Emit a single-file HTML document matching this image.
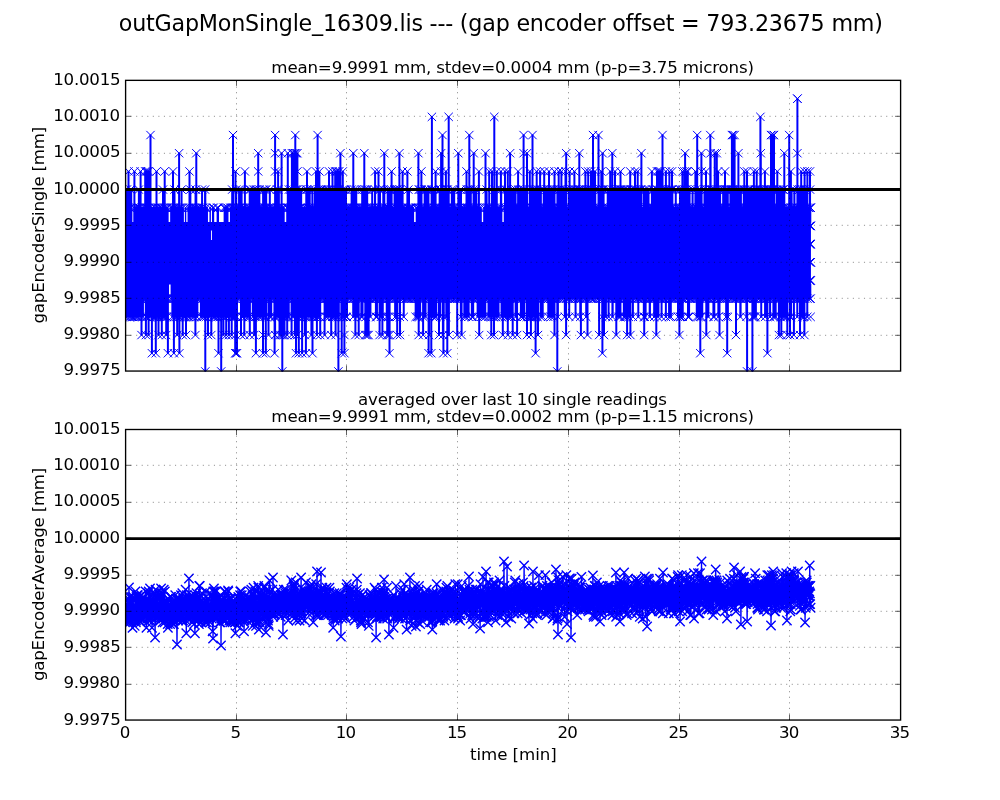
<!DOCTYPE html>
<html lang="en"><head><meta charset="utf-8"><title>outGapMonSingle_16309.lis</title>
<style>html,body{margin:0;padding:0;background:#fff;overflow:hidden}svg{display:block}.mk1{fill:none;stroke:none;marker-start:url(#m1);marker-mid:url(#m1);marker-end:url(#m1)}.mk2{fill:none;stroke:#0000ff;stroke-width:1.39;stroke-linejoin:round;marker-start:url(#m2);marker-mid:url(#m2);marker-end:url(#m2)}text{font-family:"DejaVu Sans","Liberation Sans",sans-serif;fill:#000}</style></head>
<body>
<svg width="1000" height="800" viewBox="0 0 1000 800">
<defs>
<marker id="m1" markerUnits="userSpaceOnUse" markerWidth="12" markerHeight="12" refX="6" refY="6" viewBox="0 0 12 12" overflow="visible"><path d="M1.83 1.83L10.17 10.17M1.83 10.17L10.17 1.83" stroke="#0000ff" stroke-width="1" fill="none"/></marker>
<marker id="m2" markerUnits="userSpaceOnUse" markerWidth="12" markerHeight="12" refX="6" refY="6" viewBox="0 0 12 12" overflow="visible"><path d="M1.83 1.83L10.17 10.17M1.83 10.17L10.17 1.83" stroke="#0000ff" stroke-width="1.39" stroke-linecap="square" fill="none"/></marker>
<clipPath id="c1"><rect x="125" y="80" width="775.5" height="291.4"/></clipPath><clipPath id="c2"><rect x="125" y="429" width="775.5" height="291.4"/></clipPath>
</defs>
<rect width="1000" height="800" fill="#fff"/>
<g clip-path="url(#c1)">
<path fill="#0000ff" d="M125 221.95H810.95V284.5H125ZM125 222.65V207.07H132.39V222.65ZM133.29 222.65V207.07H168.63V222.65ZM170.15 222.65V207.07H183.9V222.65ZM184.88 222.65V207.07H186.29V222.65ZM187.53 222.65V207.07H207.97V222.65ZM209.45 222.65V207.07H210.91V222.65ZM211.99 222.65V207.07H214.2V222.65ZM216.6 222.65V207.07H219V222.65ZM223.61 222.65V207.07H228.49V222.65ZM229.95 222.65V207.07H284.69V222.65ZM286.23 222.65V207.07H414.09V222.65ZM415.69 222.65V207.07H481.83V222.65ZM483.17 222.65V207.07H502.37V222.65ZM503.75 222.65V207.07H811.3V222.65ZM125 283.8H169.04V299.38H125ZM170.6 283.8H811.3V299.38H170.6ZM125 222.65V188.89H132.22V222.65ZM133.4 222.65V188.89H135.4V222.65ZM137.88 222.65V188.89H141.6V222.65ZM144.2 222.65V188.89H151.5V222.65ZM155.5 222.65V188.89H157.5V222.65ZM161.99 222.65V188.89H165.7V222.65ZM172 222.65V188.89H175.5V222.65ZM178.1 222.65V188.89H180.1V222.65ZM180.57 222.65V188.89H182.57V222.65ZM188.5 222.65V188.89H191.38V222.65ZM194.55 222.65V188.89H197.3V222.65ZM201.06 222.65V188.89H203.06V222.65ZM204.04 222.65V188.89H206.32V222.65ZM231.2 222.65V188.89H234V222.65ZM234.5 222.65V188.89H237.23V222.65ZM238.07 222.65V188.89H242.62V222.65ZM243.9 222.65V188.89H245.9V222.65ZM248.71 222.65V188.89H260.36V222.65ZM262.1 222.65V188.89H267.19V222.65ZM268.82 222.65V188.89H270.82V222.65ZM274.1 222.65V188.89H279.89V222.65ZM280.6 222.65V188.89H282.6V222.65ZM286.8 222.65V188.89H302.17V222.65ZM305.27 222.65V188.89H310.7V222.65ZM311.37 222.65V188.89H313.37V222.65ZM313.87 222.65V188.89H347.02V222.65ZM350.61 222.65V188.89H357.23V222.65ZM361.18 222.65V188.89H368.18V222.65ZM371.21 222.65V188.89H373.21V222.65ZM374.01 222.65V188.89H376.1V222.65ZM377.5 222.65V188.89H381V222.65ZM382.3 222.65V188.89H385.3V222.65ZM386.68 222.65V188.89H392.6V222.65ZM393.61 222.65V188.89H403.6V222.65ZM406.4 222.65V188.89H410.01V222.65ZM417.4 222.65V188.89H422.5V222.65ZM423.66 222.65V188.89H429.45V222.65ZM430.63 222.65V188.89H436.6V222.65ZM438.64 222.65V188.89H449.7V222.65ZM450.83 222.65V188.89H455.18V222.65ZM457.3 222.65V188.89H462.03V222.65ZM465.5 222.65V188.89H471.8V222.65ZM472.59 222.65V188.89H477.31V222.65ZM477.9 222.65V188.89H479.9V222.65ZM484.5 222.65V188.89H487.63V222.65ZM488.2 222.65V188.89H490.2V222.65ZM491 222.65V188.89H497.8V222.65ZM499.9 222.65V188.89H502.21V222.65ZM504 222.65V188.89H516.57V222.65ZM517.1 222.65V188.89H528V222.65ZM528.75 222.65V188.89H541.86V222.65ZM542.73 222.65V188.89H555.5V222.65ZM556.41 222.65V188.89H567.2V222.65ZM567.83 222.65V188.89H596.27V222.65ZM597.5 222.65V188.89H604.6V222.65ZM606.72 222.65V188.89H642.4V222.65ZM642.89 222.65V188.89H649.51V222.65ZM650.9 222.65V188.89H673.36V222.65ZM674.77 222.65V188.89H676.77V222.65ZM678.96 222.65V188.89H690.58V222.65ZM691.55 222.65V188.89H693.6V222.65ZM694.4 222.65V188.89H702.6V222.65ZM703.48 222.65V188.89H721.09V222.65ZM722.15 222.65V188.89H728.79V222.65ZM729.39 222.65V188.89H741.91V222.65ZM742.78 222.65V188.89H775V222.65ZM775.53 222.65V188.89H785.3V222.65ZM788.2 222.65V188.89H792.61V222.65ZM793.33 222.65V188.89H795.42V222.65ZM796.4 222.65V188.89H808.4V222.65ZM809 222.65V188.89H811.04V222.65ZM125 283.8H143.94V317.56H125ZM144.82 283.8H168.9V317.56H144.82ZM171.35 283.8H198.35V317.56H171.35ZM199.94 283.8H238V317.56H199.94ZM240 283.8H250.91V317.56H240ZM251.79 283.8H267.04V317.56H251.79ZM267.5 283.8H272.22V317.56H267.5ZM273.43 283.8H289.73V317.56H273.43ZM290.6 283.8H321.2V317.56H290.6ZM323.6 283.8H339.81V317.56H323.6ZM340.37 283.8H347.98V317.56H340.37ZM352.2 283.8H359.7V317.56H352.2ZM360.33 283.8H363.54V317.56H360.33ZM364.3 283.8H371.45V317.56H364.3ZM374.91 283.8H377.96V317.56H374.91ZM378.6 283.8H383.78V317.56H378.6ZM385.74 283.8H390.6V317.56H385.74ZM394.13 283.8H398.2V317.56H394.13ZM398.8 283.8H401V317.56H398.8ZM402.76 283.8H404.76V317.56H402.76ZM414.66 283.8H421.16V317.56H414.66ZM422.1 283.8H426.54V317.56H422.1ZM427.6 283.8H437.29V317.56H427.6ZM438 283.8H441.28V317.56H438ZM441.9 283.8H444.78V317.56H441.9ZM445.29 283.8H449.9V317.56H445.29ZM456.2 283.8H458.2V317.56H456.2ZM459.85 283.8H462.6V317.56H459.85ZM463.31 283.8H469.61V317.56H463.31ZM470.82 283.8H474.17V317.56H470.82ZM476.61 283.8H486.28V317.56H476.61ZM487.5 283.8H499.5V317.56H487.5ZM500.56 283.8H513.7V317.56H500.56ZM514.64 283.8H518.1V317.56H514.64ZM519.88 283.8H525.14V317.56H519.88ZM525.77 283.8H539V317.56H525.77ZM539.61 283.8H543.72V317.56H539.61ZM547.28 283.8H555.5V317.56H547.28ZM556.3 283.8H558.91V317.56H556.3ZM563.82 283.8H567.1V317.56H563.82ZM568.22 283.8H570.22V317.56H568.22ZM574.56 283.8H576.58V317.56H574.56ZM579.24 283.8H581.9V317.56H579.24ZM585.2 283.8H588.5V317.56H585.2ZM598.1 283.8H600.1V317.56H598.1ZM601.23 283.8H606.88V317.56H601.23ZM607.58 283.8H609.58V317.56H607.58ZM611.42 283.8H613.68V317.56H611.42ZM615.3 283.8H621.45V317.56H615.3ZM622.85 283.8H631.4V317.56H622.85ZM631.9 283.8H633.9V317.56H631.9ZM637.3 283.8H639.3V317.56H637.3ZM642.81 283.8H646.62V317.56H642.81ZM648.69 283.8H650.95V317.56H648.69ZM653.16 283.8H659.48V317.56H653.16ZM660.58 283.8H662.58V317.56H660.58ZM664.87 283.8H666.87V317.56H664.87ZM668.07 283.8H671.82V317.56H668.07ZM677 283.8H683.75V317.56H677ZM686.98 283.8H690.1V317.56H686.98ZM695.76 283.8H703.28V317.56H695.76ZM705.3 283.8H709.39V317.56H705.3ZM712.41 283.8H715.32V317.56H712.41ZM717.34 283.8H720.5V317.56H717.34ZM725.18 283.8H728.88V317.56H725.18ZM735 283.8H737V317.56H735ZM739.32 283.8H741.62V317.56H739.32ZM745.39 283.8H748.1V317.56H745.39ZM751.4 283.8H756.89V317.56H751.4ZM760.23 283.8H762.23V317.56H760.23ZM764.08 283.8H768.4V317.56H764.08ZM769.08 283.8H771.08V317.56H769.08ZM772.41 283.8H776.66V317.56H772.41ZM777.9 283.8H788.3V317.56H777.9ZM788.9 283.8H792.07V317.56H788.9ZM792.9 283.8H794.9V317.56H792.9ZM796.3 283.8H798.3V317.56H796.3ZM799 283.8H805.4V317.56H799ZM806.27 283.8H808.27V317.56H806.27Z"/>
<path fill="none" stroke="#0000ff" stroke-width="2.0" d="M797.4 189.59V98.18M431.9 189.59V116.36M448.7 189.59V116.36M494.3 189.59V116.36M760.4 189.59V116.36M150.5 189.59V134.55M233 189.59V134.55M275.1 189.59V134.55M295.3 189.59V134.55M317.6 189.59V134.55M442.5 189.59V134.55M469.3 189.59V134.55M523.6 189.59V134.55M532.5 189.59V134.55M593 189.59V134.55M598.5 189.59V134.55M662.5 189.59V134.55M697.2 189.59V134.55M710.3 189.59V134.55M731.9 189.59V134.55M733.2 189.59V134.55M734.6 189.59V134.55M771 189.59V134.55M772.5 189.59V134.55M774 189.59V134.55M789.2 189.59V134.55M179.1 189.59V152.73M196.3 189.59V152.73M258.2 189.59V152.73M275.1 189.59V152.73M281.6 189.59V152.73M287.8 189.59V152.73M291.9 189.59V152.73M293.3 189.59V152.73M294.7 189.59V152.73M296.1 189.59V152.73M297.4 189.59V152.73M340.4 189.59V152.73M353.3 189.59V152.73M364.3 189.59V152.73M384.3 189.59V152.73M399.4 189.59V152.73M418.4 189.59V152.73M441.1 189.59V152.73M458.3 189.59V152.73M473.7 189.59V152.73M485.5 189.59V152.73M510.1 189.59V152.73M523.6 189.59V152.73M527 189.59V152.73M566.2 189.59V152.73M579.3 189.59V152.73M602.6 189.59V152.73M612.3 189.59V152.73M641.4 189.59V152.73M685.1 189.59V152.73M701.4 189.59V152.73M710.6 189.59V152.73M714.7 189.59V152.73M716.8 189.59V152.73M738.4 189.59V152.73M760.8 189.59V152.73M784.3 189.59V152.73M797.4 189.59V152.73M128.5 189.59V170.91M134.4 189.59V170.91M140.6 189.59V170.91M145.2 189.59V170.91M146.3 189.59V170.91M147.5 189.59V170.91M148.8 189.59V170.91M156.5 189.59V170.91M164.7 189.59V170.91M173 189.59V170.91M189.5 189.59V170.91M235.5 189.59V170.91M244.9 189.59V170.91M258.2 189.59V170.91M275.1 189.59V170.91M278.1 189.59V170.91M297.4 189.59V170.91M307 189.59V170.91M316 189.59V170.91M319.4 189.59V170.91M329 189.59V170.91M332.5 189.59V170.91M335.2 189.59V170.91M336.6 189.59V170.91M338 189.59V170.91M339.2 189.59V170.91M342.8 189.59V170.91M375.1 189.59V170.91M378.5 189.59V170.91M391.6 189.59V170.91M402.6 189.59V170.91M407.4 189.59V170.91M421.4 189.59V170.91M435.6 189.59V170.91M441.1 189.59V170.91M445.9 189.59V170.91M466.5 189.59V170.91M478.9 189.59V170.91M489.2 189.59V170.91M492 189.59V170.91M496.8 189.59V170.91M500.9 189.59V170.91M505 189.59V170.91M507.8 189.59V170.91M518.1 189.59V170.91M529.8 189.59V170.91M536.7 189.59V170.91M540.1 189.59V170.91M544.2 189.59V170.91M549 189.59V170.91M554.5 189.59V170.91M558.7 189.59V170.91M561.4 189.59V170.91M565.5 189.59V170.91M569.6 189.59V170.91M574.4 189.59V170.91M585.4 189.59V170.91M588.2 189.59V170.91M591 189.59V170.91M595 189.59V170.91M601.3 189.59V170.91M610.2 189.59V170.91M615 189.59V170.91M620.5 189.59V170.91M630.2 189.59V170.91M635 189.59V170.91M637.7 189.59V170.91M651.9 189.59V170.91M657 189.59V170.91M658.3 189.59V170.91M659.7 189.59V170.91M660.8 189.59V170.91M665.9 189.59V170.91M669.4 189.59V170.91M672 189.59V170.91M682.4 189.59V170.91M684.5 189.59V170.91M686.5 189.59V170.91M687.8 189.59V170.91M695.4 189.59V170.91M701.6 189.59V170.91M706 189.59V170.91M718.1 189.59V170.91M725 189.59V170.91M744.3 189.59V170.91M747 189.59V170.91M753.9 189.59V170.91M756.7 189.59V170.91M764.9 189.59V170.91M777.3 189.59V170.91M790.9 189.59V170.91M801.2 189.59V170.91M804.6 189.59V170.91M807.4 189.59V170.91M810 189.59V170.91M205.3 316.86V371.91M221.2 316.86V371.91M282.3 316.86V371.91M338.4 316.86V371.91M557.3 316.86V371.91M747.1 316.86V371.91M752.4 316.86V371.91M151.9 316.86V353.73M155.8 316.86V353.73M167.9 316.86V353.73M173.9 316.86V353.73M179.4 316.86V353.73M218.5 316.86V353.73M235.2 316.86V353.73M236.1 316.86V353.73M237 316.86V353.73M255.9 316.86V353.73M263 316.86V353.73M265.8 316.86V353.73M274.6 316.86V353.73M296 316.86V353.73M298.8 316.86V353.73M302.1 316.86V353.73M305.9 316.86V353.73M312.5 316.86V353.73M341.7 316.86V353.73M344.4 316.86V353.73M389.5 316.86V353.73M428.6 316.86V353.73M431.3 316.86V353.73M443.4 316.86V353.73M447.3 316.86V353.73M535.6 316.86V353.73M602.4 316.86V353.73M700.3 316.86V353.73M727.2 316.86V353.73M767.4 316.86V353.73M141.5 316.86V335.55M145.9 316.86V335.55M148.6 316.86V335.55M158.5 316.86V335.55M161.8 316.86V335.55M166.2 316.86V335.55M177.2 316.86V335.55M182.7 316.86V335.55M186 316.86V335.55M195.4 316.86V335.55M208 316.86V335.55M211.3 316.86V335.55M223.4 316.86V335.55M226.2 316.86V335.55M228.9 316.86V335.55M231.7 316.86V335.55M235.5 316.86V335.55M241 316.86V335.55M244.3 316.86V335.55M249.8 316.86V335.55M254.2 316.86V335.55M263 316.86V335.55M268.5 316.86V335.55M275.1 316.86V335.55M279.5 316.86V335.55M280.6 316.86V335.55M282.3 316.86V335.55M283.5 316.86V335.55M284.5 316.86V335.55M287.2 316.86V335.55M291.6 316.86V335.55M294.9 316.86V335.55M297.1 316.86V335.55M304.8 316.86V335.55M311.4 316.86V335.55M316.9 316.86V335.55M320.2 316.86V335.55M324.6 316.86V335.55M331.2 316.86V335.55M335.6 316.86V335.55M344.4 316.86V335.55M355.4 316.86V335.55M358.7 316.86V335.55M365.3 316.86V335.55M366.5 316.86V335.55M367.5 316.86V335.55M368.6 316.86V335.55M379.6 316.86V335.55M382.4 316.86V335.55M387.2 316.86V335.55M388.4 316.86V335.55M389.6 316.86V335.55M397.2 316.86V335.55M400 316.86V335.55M418.7 316.86V335.55M423.1 316.86V335.55M429.1 316.86V335.55M439 316.86V335.55M442.9 316.86V335.55M448.9 316.86V335.55M457.2 316.86V335.55M461.6 316.86V335.55M479.2 316.86V335.55M491.3 316.86V335.55M494 316.86V335.55M502.8 316.86V335.55M507.8 316.86V335.55M512.7 316.86V335.55M517.1 316.86V335.55M527 316.86V335.55M530.9 316.86V335.55M538 316.86V335.55M554.5 316.86V335.55M566.1 316.86V335.55M580.9 316.86V335.55M587.5 316.86V335.55M599.1 316.86V335.55M604 316.86V335.55M616.3 316.86V335.55M627.1 316.86V335.55M630.4 316.86V335.55M644.2 316.86V335.55M656.3 316.86V335.55M679.4 316.86V335.55M706.3 316.86V335.55M719.5 316.86V335.55M736 316.86V335.55M778.9 316.86V335.55M781.3 316.86V335.55M787.3 316.86V335.55M790 316.86V335.55M793.9 316.86V335.55M800 316.86V335.55M804.4 316.86V335.55"/>
<path class="mk1" d="M797.4 98.68h0M431.9 116.86H448.7H494.3H760.4M150.5 135.05H233H275.1H295.3H317.6H442.5H469.3H523.6H532.5H593H598.5H662.5H697.2H710.3H731.9H733.2H734.6H771H772.5H774H789.2M179.1 153.23H196.3H258.2H275.1H281.6H287.8H291.9H293.3H294.7H296.1H297.4H340.4H353.3H364.3H384.3H399.4H418.4H441.1H458.3H473.7H485.5H510.1H523.6H527H566.2H579.3H602.6H612.3H641.4H685.1H701.4H710.6H714.7H716.8H738.4H760.8H784.3H797.4M128.5 171.41H134.4H140.6H145.2H146.3H147.5H148.8H156.5H164.7H173H189.5H235.5H244.9H258.2H275.1H278.1H297.4H307H316H319.4H329H332.5H335.2H336.6H338H339.2H342.8H375.1H378.5H391.6H402.6H407.4H421.4H435.6H441.1H445.9H466.5H478.9H489.2H492H496.8H500.9H505H507.8H518.1H529.8H536.7H540.1H544.2H549H554.5H558.7H561.4H565.5H569.6H574.4H585.4H588.2H591H595H601.3H610.2H615H620.5H630.2H635H637.7H651.9H657H658.3H659.7H660.8H665.9H669.4H672H682.4H684.5H686.5H687.8H695.4H701.6H706H718.1H725H744.3H747H753.9H756.7H764.9H777.3H790.9H801.2H804.6H807.4H810M205.3 371.41H221.2H282.3H338.4H557.3H747.1H752.4M151.9 353.23H155.8H167.9H173.9H179.4H218.5H235.2H236.1H237H255.9H263H265.8H274.6H296H298.8H302.1H305.9H312.5H341.7H344.4H389.5H428.6H431.3H443.4H447.3H535.6H602.4H700.3H727.2H767.4M141.5 335.05H145.9H148.6H158.5H161.8H166.2H177.2H182.7H186H195.4H208H211.3H223.4H226.2H228.9H231.7H235.5H241H244.3H249.8H254.2H263H268.5H275.1H279.5H280.6H282.3H283.5H284.5H287.2H291.6H294.9H297.1H304.8H311.4H316.9H320.2H324.6H331.2H335.6H344.4H355.4H358.7H365.3H366.5H367.5H368.6H379.6H382.4H387.2H388.4H389.6H397.2H400H418.7H423.1H429.1H439H442.9H448.9H457.2H461.6H479.2H491.3H494H502.8H507.8H512.7H517.1H527H530.9H538H554.5H566.1H580.9H587.5H599.1H604H616.3H627.1H630.4H644.2H656.3H679.4H706.3H719.5H736H778.9H781.3H787.3H790H793.9H800H804.4M125.74 189.59H126.92H130.44H138.88H162.99H174.5H181.57H190.38H195.55H202.06H205.04H232.2H236.23H239.07H241H249.71H250.75H253.35H255.07H256.69H259.36H263.1H264.97H266.19H269.82H277H278.24H288.94H290.61H292.48H295.17H296.23H297.63H300.33H306.27H307.17H309.7H312.37H314.87H318.47H320.4H321.41H323.04H324.95H327.16H328.35H331.1H334.23H336.8H337.94H339.26H342.9H344.34H346.02H351.61H354.08H356.23H362.18H364.26H365.81H367.18H372.21H375.01H379.06H380H383.3H387.68H389.43H391.26H394.61H396.32H397.47H399.27H400.22H408.31H418.84H419.94H421.5H424.66H426.59H428.45H431.63H433.12H435.43H439.64H440.55H444.06H446.28H447.63H451.83H453.82H460.43H466.8H468.05H469.66H470.8H473.59H475.75H486.63H496.05H501.21H505.69H507.11H511.7H513.3H515.57H518.34H520.81H522.77H523.85H529.75H531.97H533.25H534.22H535.46H537.81H540.69H543.73H546.56H547.7H549.05H550.17H551.57H553.32H557.41H558.97H560.15H562.02H563.18H565.52H568.83H571.5H572.88H574.29H575.2H576.16H578.45H579.74H580.72H582.54H584.32H586.04H587.13H589.05H590.85H592.36H594.29H595.27H600.66H602.36H603.6H607.72H609.12H612H614.24H615.76H617.81H619.22H620.48H621.66H623.22H624.64H626.24H627.96H630.78H631.78H632.91H634.78H635.97H638.4H640.28H641.25H643.89H645.72H648.2H652.82H653.92H656.71H657.75H660.19H662.44H663.77H665.38H667.12H668.57H670.06H671.27H672.36H675.77H679.96H680.99H682.82H684.56H685.83H686.79H689.58H692.55H695.74H698.52H700.31H704.48H706.36H708.09H711.63H712.89H714.49H716.17H717.7H719.59H723.15H724.14H725.6H726.51H727.43H730.39H731.85H732.77H733.8H736.92H738.62H739.96H740.91H743.78H744.93H746.97H748.42H749.41H751.21H755.3H756.72H757.87H758.86H760.7H762.22H763.36H764.35H766.17H767.42H768.64H769.56H771.31H772.31H773.59H776.53H777.92H778.99H780.4H782.23H783.51H791.61H794.33H797.67H799.44H801.3H803.12H804.68H806.64H810.04M125.67 207.77H126.69H127.79H130.32H133.61H135.32H137.04H138.71H139.75H141.7H144.51H145.54H146.8H148.37H149.82H152.17H154.58H155.9H157.7H159.09H160.68H161.76H163.38H164.63H165.83H167.22H170.41H171.99H173.02H174.31H175.48H176.71H178.52H180.35H181.99H185.56H188.12H189.91H191.46H193.55H194.65H195.76H197.22H198.49H199.62H201.68H202.97H205.68H210.06H212.63H213.67H217.17H218.28H223.91H225H226.28H227.68H230.31H231.44H232.55H233.77H235.03H236.18H237.87H239.28H240.48H242.15H243.65H244.95H247.05H248.6H249.93H251.27H253.11H254.11H255.87H256.92H259.3H260.77H262.67H264.8H266.11H268.44H269.52H270.65H271.88H273.12H274.41H276.59H277.79H279.03H280.54H282.33H283.54H286.76H287.85H288.94H290.52H291.79H293.87H296.06H297.31H300.22H301.71H303.18H305.96H307.85H308.93H311.58H312.78H314.95H317.07H318.88H320.11H321.38H322.58H324.9H326.35H327.92H329.27H330.61H332.12H333.68H335.52H337.78H339.84H341.51H342.82H344.44H345.98H347.15H348.36H349.84H351.65H353.1H354.28H355.49H356.49H357.58H358.73H360.5H361.54H363.26H364.33H366.1H367.62H368.81H370.44H371.98H373.31H374.97H376.36H377.42H379.65H381.17H382.42H384.35H385.52H387.77H388.83H391.27H392.78H393.82H396.19H397.37H399.83H402.18H403.87H405.6H407.78H409.08H410.21H411.24H412.99H415.97H416.99H418.76H420.64H421.69H422.83H424.4H426.43H427.67H429.08H430.19H431.3H433.77H435.16H436.42H438.22H439.66H441.15H442.99H444.8H445.94H447.21H448.62H450.01H451.39H452.71H453.83H454.89H457.07H459.44H461.05H462.42H463.58H465.71H466.96H468.09H469.88H471.07H472.08H473.14H474.38H476.27H477.5H479.54H483.85H486.03H487.48H488.5H489.86H491.04H492.52H494.49H496.83H498.01H499.14H501.32H504.12H505.37H507.68H508.95H511.25H512.77H513.78H515.26H516.28H517.61H518.77H520.19H521.34H522.51H524.06H525.31H527.53H528.75H531.28H532.31H533.78H535.92H538.25H540.44H541.65H543.22H544.49H545.89H547.6H549.41H550.43H551.79H552.8H553.97H556.03H557.26H558.58H559.71H561.25H562.51H563.64H565.12H566.58H567.67H570.08H572.24H574.53H575.89H578.37H579.72H581.2H582.24H583.92H584.98H587.09H589.59H590.69H591.81H593.77H595.51H596.56H597.84H599.56H602.25H603.96H606.26H607.53H609.08H611.2H612.27H613.62H615.05H617.25H618.59H620.26H622.69H625.3H627.05H628.84H630.06H631.26H632.35H633.78H635.61H637.02H638.13H640.06H642.18H644.58H646.72H648H649.05H650.19H651.61H652.7H653.94H655.85H657.33H658.93H660.16H661.43H662.81H664.09H665.41H667.51H668.53H670.96H672.45H674.66H676.42H678.5H679.5H680.54H682.06H683.15H684.48H685.96H687.28H689.29H690.63H693.06H694.07H695.48H696.78H698.76H699.83H701.18H703.12H704.15H705.49H706.93H709.18H710.85H712.16H713.63H714.69H716.5H717.96H719.6H721.09H722.83H724.04H725.06H726.3H728.8H730.13H731.89H733.1H734.24H735.6H737.62H738.8H740.05H741.67H743.6H745.47H746.93H748.33H749.51H750.99H752.36H753.54H755.26H757.48H759.66H761.13H762.35H763.37H765.16H767.47H769.69H771.5H773.18H774.59H776.67H778.68H780.31H782.54H783.6H784.79H787.35H788.61H790.87H792.29H793.64H795.24H796.66H799H800.46H802.4H804.07H805.51H806.89H808.84M125.28 298.68H126.6H128.09H129.74H130.82H132.36H133.38H134.72H136.21H138.69H140.05H141.27H143.1H144.29H145.49H146.51H148.34H149.4H151.16H153.45H155.36H156.78H158.54H159.64H161.22H162.61H163.88H164.94H165.99H167.2H168.3H171.01H172.6H173.79H174.81H176.31H177.55H178.84H181.04H182.59H183.73H185.72H187.32H188.44H190.28H191.65H193.48H194.56H196.73H197.93H199.43H200.61H202.85H204.16H205.2H207.07H208.15H209.42H211.34H212.58H213.84H214.9H216.52H217.73H219H220.49H222.14H223.74H224.8H226.54H227.96H230.2H231.24H232.61H233.62H234.97H237.21H239.24H240.86H243.35H244.49H246.18H247.22H248.61H250.36H253.15H254.61H255.72H257.79H259.61H261.17H262.23H263.37H265.01H267.02H269.38H271.21H272.36H273.77H275.49H276.6H277.68H279.03H281.51H283.68H285.1H286.34H288.34H289.73H291.18H293.23H294.62H296.31H298.59H300.99H302.04H303.12H304.75H306.48H307.69H308.77H310.27H312.1H314.5H315.85H317.72H319.46H321.15H322.55H323.94H325.07H326.32H327.61H328.88H330.14H331.68H333.09H334.37H335.65H337.1H338.35H339.45H341.1H342.31H344.37H345.4H346.85H348.45H349.53H352.09H353.23H355.41H357.92H358.92H360.22H361.6H362.61H365.22H366.38H368.5H369.8H370.97H372.43H374.16H375.22H376.5H378.49H379.61H381.04H382.3H384.6H385.73H387.08H388.28H389.29H391.03H392.39H394.68H395.68H396.97H399.75H402.03H403.32H405.19H406.27H407.5H408.63H409.89H411.23H412.68H414.17H415.69H417.06H418.39H419.92H421.34H422.54H423.8H426H427.42H429.09H430.86H432.9H433.9H435.34H437.3H438.94H440.98H442.09H443.46H444.63H446.53H447.99H449.42H450.51H452.84H454.07H455.34H457.44H459.29H460.31H461.34H462.86H464.84H466.53H468.84H469.96H471.06H472.75H473.87H475.13H477.49H480.13H481.89H483.02H484.62H486.19H487.51H488.52H490.96H491.97H493.45H494.55H496.1H497.16H498.64H501.11H502.96H504.17H505.54H508.04H509.62H511.8H513.79H515.17H516.3H517.7H518.79H520.47H522.26H524.71H527.06H529.2H531.18H532.42H534.13H535.32H536.49H538H539.14H540.55H542.5H544.18H545.38H546.87H548.28H550.28H551.44H552.75H553.84H555.28H556.47H558.21H559.96H561.56H563.38H566.19H568.42H569.6H571.95H573.72H575.31H577.05H578.46H580H581.17H583.68H585.06H586.07H587.93H590.42H591.65H593.04H594.18H596.57H598.62H600.3H602.01H604.56H607.16H609.62H610.67H611.95H613.65H614.66H616.15H617.47H618.7H619.85H622.32H623.69H625.03H627.28H628.49H630.14H631.92H634.15H635.61H637.45H638.7H640.17H641.6H643.15H644.69H646.05H647.53H649.1H650.36H651.57H653.34H654.4H655.99H658.28H659.62H660.62H661.87H663.65H664.74H666.15H668.41H670.21H671.24H672.77H674.03H675.22H677.61H679.19H681.51H682.54H683.82H685.75H687.42H689.61H690.8H692.05H694.1H695.72H696.87H698.02H699.9H702.46H703.75H705.26H706.6H708.75H709.86H711.61H713.29H715.38H716.53H717.58H719.24H720.33H721.93H723.38H725.5H727.08H729.29H731.33H732.66H734H735.15H736.21H738.12H739.49H740.55H742.04H743.78H745.55H746.69H748.46H749.98H751.11H753.29H754.39H755.43H758.07H759.31H761.15H762.51H763.88H764.89H766.31H767.66H769.26H770.57H772.68H774.57H776.12H778.24H779.3H781.68H782.82H784.18H785.27H787.02H788.62H789.97H791.49H793.75H795.57H796.87H797.92H798.92H800.12H801.33H802.52H803.83H805.07H807.48H809.92M125.32 316.86H127.18H129.49H130.49H131.83H132.95H134.27H135.53H136.67H137.73H140.53H142.47H145.82H146.8H150.19H152.71H154.19H155.17H156.45H157.55H158.85H161.28H163.01H164.01H165.43H166.96H172.35H174.4H175.89H177.02H178.79H180.17H183.74H184.66H185.63H187.55H188.95H191.41H193.52H194.43H196.9H200.94H202.64H203.89H205.95H208.6H212.64H214.05H214.96H216.79H217.97H219.79H222.99H224.82H226.96H230.65H231.83H233H234.11H235.17H236.64H242H243.12H245.55H248.22H249.91H252.79H255.11H256.33H258.66H260.1H261.62H264.72H266.04H269.61H271.22H274.43H275.45H277.62H278.67H282.67H284.25H285.24H286.48H287.72H288.73H292.69H297.39H299.84H301.51H303.07H304.58H305.64H307.44H309.77H311.95H313.7H314.86H316.73H318.08H319.67H325.71H327.24H329.37H332.14H333.08H334.16H336.02H338.25H341.37H342.68H343.87H345.96H346.98H353.2H357.5H361.33H362.27H365.94H370.45H375.91H376.96H380.89H382.78H386.74H388.74H395.13H397.15H399.8H403.76H415.66H417.26H418.44H419.51H423.26H425.54H433.15H435.14H436.29H440.28H443.63H446.29H460.85H464.31H465.87H468.61H471.82H473.17H477.61H481.36H483.3H485.28H488.5H490.69H492.47H494.02H495.8H498.5H501.56H504.84H507H508.92H510.76H511.77H515.64H520.88H521.85H524.14H526.77H528.84H530.1H531.04H532.06H533.34H535.33H536.36H537.54H540.61H542.67H548.28H551.02H553.5H557.91H564.82H569.22H575.56H580.24H586.2H602.23H605.88H608.58H612.42H618.47H619.53H620.45H623.85H625.32H626.75H628.79H632.9H638.3H643.81H644.8H649.69H654.16H657.63H661.58H665.87H669.07H670.82H678H679.89H680.82H682.75H687.98H689.1H696.76H698.46H700.26H701.41H708.39H713.41H714.32H718.34H726.18H727.88H740.32H746.39H752.44H753.37H754.4H755.42H761.23H765.08H770.08H773.41H774.39H775.66H780.7H783.25H784.52H785.63H786.97H789.9H791.07H797.3H801.93H803.41H804.36H807.27M810.6 207.77V225.95V244.14V262.32V280.5V298.68V316.86M810.2 225.95V244.14V262.32V280.5V207.77M809.8 244.14V225.95V262.32V280.5M810.75 225.95V244.14V262.32V207.77V280.5"/>
<path d="M211.5 230.5V240" stroke="#fff" stroke-width="0.9"/>
</g>
<g clip-path="url(#c2)"><path class="mk2" d="M125 622.32 125.22 602.32 125.44 609.59 125.66 611.41 125.88 605.95 126.11 618.68 126.33 609.59 126.55 618.68 126.77 604.14 126.99 611.41 127.21 618.68 127.43 600.5 127.65 622.32 127.88 605.95 128.1 611.41 128.32 613.23 128.54 605.95 128.76 620.5 128.98 587.5 129.2 620.5 129.42 596.86 129.65 622.32 129.87 602.32 130.09 600.5 130.31 609.59 130.53 609.59 130.75 611.41 130.97 611.41 131.19 596.86 131.42 609.59 131.64 613.23 131.86 618.68 132.08 611.41 132.3 609.59 132.52 627.77 132.74 618.68 132.96 613.23 133.19 596.86 133.41 613.23 133.63 613.23 133.85 620.5 134.07 609.59 134.29 618.68 134.51 611.41 134.73 625.95 134.96 607.77 135.18 609.59 135.4 591.41 135.62 611.41 135.84 622.32 136.06 620.5 136.28 602.32 136.5 596.86 136.73 609.59 136.95 607.77 137.17 595.05 137.39 618.68 137.61 604.14 137.83 595.05 138.05 602.32 138.27 604.14 138.5 611.41 138.72 605.95 138.94 620.5 139.16 596.86 139.38 596.86 139.6 611.41 139.82 609.59 140.04 607.77 140.27 618.68 140.49 622.32 140.71 607.77 140.93 618.68 141.15 611.41 141.37 595.05 141.59 618.68 141.81 613.23 142.03 611.41 142.26 618.68 142.48 602.32 142.7 615.05 142.92 611.41 143.14 598.68 143.36 605.95 143.58 604.14 143.8 605.95 144.03 618.68 144.25 602.32 144.47 604.14 144.69 611.41 144.91 600.5 145.13 609.59 145.35 616.86 145.57 591.41 145.8 611.41 146.02 609.59 146.24 602.32 146.46 627.77 146.68 605.95 146.9 602.32 147.12 600.5 147.34 618.68 147.57 600.5 147.79 607.77 148.01 607.77 148.23 593.23 148.45 607.77 148.67 591.41 148.89 620.5 149.11 602.32 149.34 616.86 149.56 613.23 149.78 600.5 150 588.5 150.22 613.23 150.44 620.5 150.66 613.23 150.88 611.41 151.11 602.32 151.33 602.32 151.55 616.86 151.77 615.05 151.99 627.77 152.21 611.41 152.43 611.41 152.65 605.95 152.88 605.95 153.1 615.05 153.32 602.32 153.54 600.5 153.76 593.23 153.98 602.32 154.2 598.68 154.42 604.14 154.65 607.77 154.87 602.32 155.09 637.5 155.31 607.77 155.53 589.59 155.75 595.05 155.97 596.86 156.19 605.95 156.42 616.86 156.64 605.95 156.86 607.77 157.08 605.95 157.3 609.59 157.52 591.41 157.74 596.86 157.96 616.86 158.18 609.59 158.41 616.86 158.63 609.59 158.85 609.59 159.07 609.59 159.29 616.86 159.51 618.68 159.73 595.05 159.95 611.41 160.18 600.5 160.4 620.5 160.62 600.5 160.84 596.86 161.06 588.5 161.28 605.95 161.5 618.68 161.72 616.86 161.95 613.23 162.17 593.23 162.39 609.59 162.61 622.32 162.83 602.32 163.05 607.77 163.27 618.68 163.49 609.59 163.72 589.59 163.94 616.86 164.16 605.95 164.38 602.32 164.6 622.32 164.82 591.41 165.04 609.59 165.26 604.14 165.49 611.41 165.71 600.5 165.93 616.86 166.15 607.77 166.37 600.5 166.59 615.05 166.81 607.77 167.03 604.14 167.26 613.23 167.48 618.68 167.7 624.14 167.92 627.77 168.14 598.68 168.36 607.77 168.58 607.77 168.8 616.86 169.03 611.41 169.25 616.86 169.47 607.77 169.69 618.68 169.91 605.95 170.13 624.14 170.35 613.23 170.57 607.77 170.8 596.86 171.02 596.86 171.24 605.95 171.46 613.23 171.68 616.86 171.9 605.95 172.12 613.23 172.34 602.32 172.57 602.32 172.79 620.5 173.01 624.14 173.23 616.86 173.45 613.23 173.67 615.05 173.89 624.14 174.11 611.41 174.33 613.23 174.56 613.23 174.78 602.32 175 609.59 175.22 595.05 175.44 615.05 175.66 604.14 175.88 613.23 176.1 598.68 176.33 613.23 176.55 602.32 176.77 618.68 176.99 644.5 177.21 616.86 177.43 616.86 177.65 605.95 177.87 598.68 178.1 605.95 178.32 620.5 178.54 615.05 178.76 611.41 178.98 602.32 179.2 616.86 179.42 609.59 179.64 598.68 179.87 615.05 180.09 611.41 180.31 611.41 180.53 618.68 180.75 602.32 180.97 595.05 181.19 616.86 181.41 620.5 181.64 616.86 181.86 615.05 182.08 602.32 182.3 593.23 182.52 620.5 182.74 616.86 182.96 620.5 183.18 598.68 183.41 609.59 183.63 602.32 183.85 600.5 184.07 605.95 184.29 604.14 184.51 609.59 184.73 600.5 184.95 609.59 185.18 615.05 185.4 609.59 185.62 589.59 185.84 620.5 186.06 598.68 186.28 633.23 186.5 604.14 186.72 595.05 186.95 605.95 187.17 611.41 187.39 611.41 187.61 618.68 187.83 616.86 188.05 618.68 188.27 605.95 188.49 615.05 188.72 605.95 188.94 578.5 189.16 605.95 189.38 596.86 189.6 615.05 189.82 615.05 190.04 607.77 190.26 598.68 190.48 605.95 190.71 598.68 190.93 615.05 191.15 598.68 191.37 595.05 191.59 602.32 191.81 616.86 192.03 598.68 192.25 622.32 192.48 609.59 192.7 616.86 192.92 602.32 193.14 613.23 193.36 602.32 193.58 596.86 193.8 615.05 194.02 624.14 194.25 600.5 194.47 618.68 194.69 600.5 194.91 633.23 195.13 595.05 195.35 613.23 195.57 615.05 195.79 604.14 196.02 618.68 196.24 618.68 196.46 593.23 196.68 607.77 196.9 607.77 197.12 598.68 197.34 618.68 197.56 613.23 197.79 605.95 198.01 620.5 198.23 596.86 198.45 613.23 198.67 596.86 198.89 624.14 199.11 609.59 199.33 585.95 199.56 618.68 199.78 585.95 200 605.95 200.22 595.05 200.44 602.32 200.66 609.59 200.88 607.77 201.1 622.32 201.33 622.32 201.55 618.68 201.77 613.23 201.99 593.23 202.21 604.14 202.43 611.41 202.65 616.86 202.87 615.05 203.1 602.32 203.32 609.59 203.54 604.14 203.76 607.77 203.98 598.68 204.2 618.68 204.42 607.77 204.64 604.14 204.86 615.05 205.09 613.23 205.31 622.32 205.53 613.23 205.75 616.86 205.97 591.41 206.19 609.59 206.41 611.41 206.63 615.05 206.86 622.32 207.08 602.32 207.3 605.95 207.52 611.41 207.74 607.77 207.96 615.05 208.18 616.86 208.4 613.23 208.63 598.68 208.85 618.68 209.07 616.86 209.29 607.77 209.51 609.59 209.73 615.05 209.95 615.05 210.17 622.32 210.4 604.14 210.62 607.77 210.84 602.32 211.06 613.23 211.28 595.05 211.5 611.41 211.72 618.68 211.94 595.05 212.17 595.05 212.39 609.59 212.61 631.41 212.83 607.77 213.05 638.5 213.27 591.41 213.49 607.77 213.71 615.05 213.94 588.5 214.16 618.68 214.38 600.5 214.6 611.41 214.82 591.41 215.04 600.5 215.26 604.14 215.48 616.86 215.71 615.05 215.93 600.5 216.15 591.41 216.37 604.14 216.59 618.68 216.81 609.59 217.03 613.23 217.25 598.68 217.48 607.77 217.7 613.23 217.92 604.14 218.14 598.68 218.36 609.59 218.58 609.59 218.8 598.68 219.02 607.77 219.25 611.41 219.47 596.86 219.69 622.32 219.91 613.23 220.13 602.32 220.35 622.32 220.57 600.5 220.79 595.05 221.01 645.5 221.24 607.77 221.46 618.68 221.68 600.5 221.9 615.05 222.12 607.77 222.34 611.41 222.56 611.41 222.78 618.68 223.01 611.41 223.23 620.5 223.45 602.32 223.67 620.5 223.89 613.23 224.11 620.5 224.33 591.41 224.55 598.68 224.78 609.59 225 591.41 225.22 598.68 225.44 607.77 225.66 620.5 225.88 611.41 226.1 605.95 226.32 611.41 226.55 600.5 226.77 615.05 226.99 615.05 227.21 618.68 227.43 615.05 227.65 605.95 227.87 616.86 228.09 590.5 228.32 591.41 228.54 616.86 228.76 613.23 228.98 605.95 229.2 605.95 229.42 620.5 229.64 605.95 229.86 598.68 230.09 607.77 230.31 622.32 230.53 598.68 230.75 611.41 230.97 615.05 231.19 605.95 231.41 618.68 231.63 598.68 231.86 605.95 232.08 602.32 232.3 604.14 232.52 622.32 232.74 605.95 232.96 607.77 233.18 618.68 233.4 620.5 233.63 620.5 233.85 611.41 234.07 620.5 234.29 618.68 234.51 605.95 234.73 622.32 234.95 598.68 235.17 622.32 235.4 633.23 235.62 615.05 235.84 609.59 236.06 607.77 236.28 618.68 236.5 615.05 236.72 616.86 236.94 604.14 237.16 625.95 237.39 609.59 237.61 613.23 237.83 615.05 238.05 611.41 238.27 596.86 238.49 622.32 238.71 598.68 238.93 622.32 239.16 611.41 239.38 611.41 239.6 598.68 239.82 611.41 240.04 595.05 240.26 591.41 240.48 605.95 240.7 605.95 240.93 602.32 241.15 591.41 241.37 600.5 241.59 598.68 241.81 595.05 242.03 615.05 242.25 613.23 242.47 602.32 242.7 618.68 242.92 609.59 243.14 613.23 243.36 607.77 243.58 598.68 243.8 618.68 244.02 631.41 244.24 622.32 244.47 611.41 244.69 620.5 244.91 600.5 245.13 602.32 245.35 609.59 245.57 605.95 245.79 604.14 246.01 618.68 246.24 605.95 246.46 600.5 246.68 615.05 246.9 613.23 247.12 607.77 247.34 607.77 247.56 604.14 247.78 607.77 248.01 615.05 248.23 602.32 248.45 596.86 248.67 605.95 248.89 618.68 249.11 609.59 249.33 605.95 249.55 600.5 249.78 611.41 250 609.59 250.22 591.41 250.44 611.41 250.66 600.5 250.88 620.5 251.1 598.68 251.32 589.59 251.55 604.14 251.77 615.05 251.99 611.41 252.21 607.77 252.43 595.05 252.65 625.95 252.87 602.32 253.09 602.32 253.31 600.5 253.54 587.77 253.76 618.68 253.98 607.77 254.2 615.05 254.42 611.41 254.64 607.77 254.86 611.41 255.08 600.5 255.31 591.41 255.53 622.32 255.75 607.77 255.97 625.95 256.19 596.86 256.41 622.32 256.63 618.68 256.85 604.14 257.08 613.23 257.3 602.32 257.52 605.95 257.74 622.32 257.96 605.95 258.18 585.95 258.4 587.77 258.62 611.41 258.85 629.59 259.07 613.23 259.29 609.59 259.51 620.5 259.73 622.32 259.95 598.68 260.17 593.23 260.39 600.5 260.62 595.05 260.84 613.23 261.06 609.59 261.28 611.41 261.5 609.59 261.72 595.05 261.94 607.77 262.16 604.14 262.39 613.23 262.61 618.68 262.83 602.32 263.05 605.95 263.27 602.32 263.49 595.05 263.71 605.95 263.93 613.23 264.16 587.77 264.38 585.95 264.6 602.32 264.82 611.41 265.04 598.68 265.26 595.05 265.48 602.32 265.7 598.68 265.93 632.5 266.15 609.59 266.37 598.68 266.59 616.86 266.81 589.59 267.03 616.86 267.25 604.14 267.47 607.77 267.7 618.68 267.92 620.5 268.14 609.59 268.36 600.5 268.58 624.14 268.8 625.95 269.02 611.41 269.24 598.68 269.46 609.59 269.69 580.5 269.91 591.41 270.13 611.41 270.35 598.68 270.57 600.5 270.79 605.95 271.01 600.5 271.23 602.32 271.46 613.23 271.68 609.59 271.9 613.23 272.12 607.77 272.34 589.59 272.56 600.5 272.78 600.5 273 577.5 273.23 616.86 273.45 602.32 273.67 613.23 273.89 600.5 274.11 613.23 274.33 615.05 274.55 609.59 274.77 611.41 275 598.68 275.22 595.05 275.44 596.86 275.66 602.32 275.88 604.14 276.1 611.41 276.32 605.95 276.54 605.95 276.77 602.32 276.99 600.5 277.21 602.32 277.43 609.59 277.65 604.14 277.87 604.14 278.09 602.32 278.31 589.59 278.54 607.77 278.76 598.68 278.98 596.86 279.2 613.23 279.42 596.86 279.64 605.95 279.86 609.59 280.08 607.77 280.31 598.68 280.53 595.05 280.75 616.86 280.97 595.05 281.19 600.5 281.41 604.14 281.63 605.95 281.85 593.23 282.08 609.59 282.3 604.14 282.52 600.5 282.74 600.5 282.96 634.5 283.18 607.77 283.4 609.59 283.62 596.86 283.85 589.59 284.07 602.32 284.29 602.32 284.51 602.32 284.73 604.14 284.95 600.5 285.17 593.23 285.39 598.68 285.61 615.05 285.84 589.59 286.06 598.68 286.28 595.05 286.5 609.59 286.72 607.77 286.94 607.77 287.16 596.86 287.38 605.95 287.61 595.05 287.83 605.95 288.05 613.23 288.27 620.5 288.49 593.23 288.71 598.68 288.93 600.5 289.15 611.41 289.38 602.32 289.6 598.68 289.82 609.59 290.04 604.14 290.26 605.95 290.48 596.86 290.7 609.59 290.92 613.23 291.15 593.23 291.37 580.5 291.59 596.86 291.81 605.95 292.03 613.23 292.25 604.14 292.47 602.32 292.69 605.95 292.92 607.77 293.14 607.77 293.36 611.41 293.58 584.14 293.8 585.95 294.02 587.77 294.24 618.68 294.46 604.14 294.69 605.95 294.91 593.23 295.13 589.59 295.35 596.86 295.57 596.86 295.79 582.32 296.01 600.5 296.23 595.05 296.46 620.5 296.68 598.68 296.9 598.68 297.12 607.77 297.34 613.23 297.56 595.05 297.78 593.23 298 602.32 298.23 611.41 298.45 598.68 298.67 593.23 298.89 615.05 299.11 607.77 299.33 609.59 299.55 620.5 299.77 595.05 300 611.41 300.22 602.32 300.44 591.41 300.66 609.59 300.88 611.41 301.1 577.5 301.32 613.23 301.54 600.5 301.76 618.68 301.99 611.41 302.21 596.86 302.43 596.86 302.65 607.77 302.87 600.5 303.09 600.5 303.31 595.05 303.53 604.14 303.76 607.77 303.98 589.59 304.2 595.05 304.42 591.41 304.64 620.5 304.86 593.23 305.08 598.68 305.3 593.23 305.53 595.05 305.75 602.32 305.97 582.32 306.19 604.14 306.41 600.5 306.63 604.14 306.85 596.86 307.07 602.32 307.3 598.68 307.52 605.95 307.74 609.59 307.96 605.95 308.18 613.23 308.4 591.41 308.62 595.05 308.84 604.14 309.07 600.5 309.29 596.86 309.51 600.5 309.73 598.68 309.95 611.41 310.17 602.32 310.39 587.77 310.61 585.95 310.84 598.68 311.06 595.05 311.28 605.95 311.5 584.14 311.72 607.77 311.94 602.32 312.16 591.41 312.38 595.05 312.61 607.77 312.83 598.68 313.05 611.41 313.27 622.32 313.49 602.32 313.71 602.32 313.93 607.77 314.15 604.14 314.38 598.68 314.6 595.05 314.82 602.32 315.04 604.14 315.26 605.95 315.48 604.14 315.7 609.59 315.92 615.05 316.15 584.14 316.37 596.86 316.59 595.05 316.81 596.86 317.03 571.5 317.25 607.77 317.47 591.41 317.69 615.05 317.91 593.23 318.14 615.05 318.36 600.5 318.58 600.5 318.8 593.23 319.02 605.95 319.24 598.68 319.46 595.05 319.68 598.68 319.91 607.77 320.13 602.32 320.35 598.68 320.57 605.95 320.79 591.41 321.01 572.5 321.23 596.86 321.45 593.23 321.68 598.68 321.9 589.59 322.12 595.05 322.34 587.77 322.56 613.23 322.78 600.5 323 609.59 323.22 602.32 323.45 607.77 323.67 611.41 323.89 607.77 324.11 615.05 324.33 605.95 324.55 589.59 324.77 604.14 324.99 613.23 325.22 615.05 325.44 598.68 325.66 602.32 325.88 604.14 326.1 609.59 326.32 591.41 326.54 587.77 326.76 605.95 326.99 609.59 327.21 602.32 327.43 593.23 327.65 609.59 327.87 615.05 328.09 605.95 328.31 607.77 328.53 598.68 328.76 593.23 328.98 596.86 329.2 609.59 329.42 587.77 329.64 596.86 329.86 591.41 330.08 609.59 330.3 607.77 330.53 613.23 330.75 596.86 330.97 604.14 331.19 613.23 331.41 596.86 331.63 607.77 331.85 615.05 332.07 609.59 332.29 602.32 332.52 607.77 332.74 607.77 332.96 600.5 333.18 627.77 333.4 616.86 333.62 607.77 333.84 598.68 334.06 618.68 334.29 593.23 334.51 609.59 334.73 620.5 334.95 618.68 335.17 615.05 335.39 600.5 335.61 609.59 335.83 613.23 336.06 602.32 336.28 598.68 336.5 598.68 336.72 616.86 336.94 593.23 337.16 615.05 337.38 598.68 337.6 611.41 337.83 596.86 338.05 618.68 338.27 605.95 338.49 613.23 338.71 615.05 338.93 604.14 339.15 598.68 339.37 607.77 339.6 593.23 339.82 605.95 340.04 595.05 340.26 595.05 340.48 607.77 340.7 595.05 340.92 636.5 341.14 609.59 341.37 600.5 341.59 607.77 341.81 600.5 342.03 615.05 342.25 609.59 342.47 618.68 342.69 613.23 342.91 607.77 343.14 605.95 343.36 609.59 343.58 616.86 343.8 607.77 344.02 596.86 344.24 598.68 344.46 615.05 344.68 602.32 344.91 602.32 345.13 604.14 345.35 605.95 345.57 609.59 345.79 618.68 346.01 596.86 346.23 602.32 346.45 587.77 346.68 605.95 346.9 584.14 347.12 607.77 347.34 602.32 347.56 600.5 347.78 613.23 348 591.41 348.22 602.32 348.44 602.32 348.67 598.68 348.89 598.68 349.11 587.77 349.33 611.41 349.55 609.59 349.77 604.14 349.99 611.41 350.21 613.23 350.44 591.41 350.66 607.77 350.88 609.59 351.1 602.32 351.32 609.59 351.54 589.59 351.76 593.23 351.98 595.05 352.21 609.59 352.43 604.14 352.65 604.14 352.87 611.41 353.09 605.95 353.31 600.5 353.53 616.86 353.75 605.95 353.98 605.95 354.2 602.32 354.42 620.5 354.64 605.95 354.86 609.59 355.08 605.95 355.3 602.32 355.52 607.77 355.75 611.41 355.97 618.68 356.19 605.95 356.41 593.23 356.63 609.59 356.85 589.59 357.07 578.5 357.29 595.05 357.52 607.77 357.74 613.23 357.96 600.5 358.18 605.95 358.4 602.32 358.62 598.68 358.84 616.86 359.06 609.59 359.29 616.86 359.51 616.86 359.73 604.14 359.95 593.23 360.17 609.59 360.39 616.86 360.61 613.23 360.83 620.5 361.06 622.32 361.28 605.95 361.5 624.14 361.72 604.14 361.94 602.32 362.16 595.05 362.38 595.05 362.6 609.59 362.83 598.68 363.05 605.95 363.27 602.32 363.49 605.95 363.71 613.23 363.93 609.59 364.15 618.68 364.37 604.14 364.59 618.68 364.82 600.5 365.04 607.77 365.26 596.86 365.48 604.14 365.7 605.95 365.92 607.77 366.14 607.77 366.36 604.14 366.59 607.77 366.81 609.59 367.03 609.59 367.25 613.23 367.47 604.14 367.69 609.59 367.91 622.32 368.13 600.5 368.36 602.32 368.58 605.95 368.8 625.95 369.02 607.77 369.24 609.59 369.46 595.05 369.68 613.23 369.9 605.95 370.13 602.32 370.35 596.86 370.57 611.41 370.79 604.14 371.01 593.23 371.23 593.23 371.45 611.41 371.67 602.32 371.9 605.95 372.12 609.59 372.34 609.59 372.56 605.95 372.78 605.95 373 611.41 373.22 613.23 373.44 598.68 373.67 613.23 373.89 611.41 374.11 607.77 374.33 613.23 374.55 587.77 374.77 605.95 374.99 615.05 375.21 615.05 375.44 609.59 375.66 609.59 375.88 589.59 376.1 637.5 376.32 604.14 376.54 604.14 376.76 618.68 376.98 616.86 377.21 600.5 377.43 600.5 377.65 611.41 377.87 605.95 378.09 593.23 378.31 598.68 378.53 595.05 378.75 598.68 378.98 598.68 379.2 611.41 379.42 605.95 379.64 616.86 379.86 609.59 380.08 615.05 380.3 602.32 380.52 615.05 380.74 600.5 380.97 591.41 381.19 604.14 381.41 616.86 381.63 602.32 381.85 587.77 382.07 616.86 382.29 596.86 382.51 613.23 382.74 595.05 382.96 602.32 383.18 618.68 383.4 611.41 383.62 593.23 383.84 593.23 384.06 579.5 384.28 615.05 384.51 596.86 384.73 593.23 384.95 600.5 385.17 605.95 385.39 607.77 385.61 602.32 385.83 598.68 386.05 602.32 386.28 609.59 386.5 609.59 386.72 616.86 386.94 587.77 387.16 618.68 387.38 598.68 387.6 604.14 387.82 605.95 388.05 607.77 388.27 605.95 388.49 605.95 388.71 605.95 388.93 634.5 389.15 602.32 389.37 611.41 389.59 611.41 389.82 605.95 390.04 611.41 390.26 604.14 390.48 607.77 390.7 609.59 390.92 607.77 391.14 605.95 391.36 609.59 391.59 598.68 391.81 596.86 392.03 607.77 392.25 604.14 392.47 602.32 392.69 602.32 392.91 611.41 393.13 605.95 393.36 607.77 393.58 627.77 393.8 618.68 394.02 595.05 394.24 607.77 394.46 605.95 394.68 616.86 394.9 607.77 395.13 611.41 395.35 604.14 395.57 602.32 395.79 615.05 396.01 585.95 396.23 598.68 396.45 604.14 396.67 613.23 396.89 602.32 397.12 598.68 397.34 600.5 397.56 616.86 397.78 607.77 398 613.23 398.22 609.59 398.44 605.95 398.66 609.59 398.89 618.68 399.11 604.14 399.33 616.86 399.55 604.14 399.77 600.5 399.99 609.59 400.21 611.41 400.43 604.14 400.66 593.23 400.88 613.23 401.1 605.95 401.32 600.5 401.54 605.95 401.76 618.68 401.98 602.32 402.2 602.32 402.43 600.5 402.65 611.41 402.87 589.59 403.09 609.59 403.31 609.59 403.53 613.23 403.75 596.86 403.97 605.95 404.2 584.14 404.42 605.95 404.64 600.5 404.86 611.41 405.08 618.68 405.3 593.23 405.52 593.23 405.74 604.14 405.97 598.68 406.19 596.86 406.41 596.86 406.63 629.59 406.85 598.68 407.07 595.05 407.29 604.14 407.51 600.5 407.74 596.86 407.96 600.5 408.18 607.77 408.4 611.41 408.62 615.05 408.84 596.86 409.06 611.41 409.28 605.95 409.51 600.5 409.73 604.14 409.95 577.5 410.17 620.5 410.39 602.32 410.61 613.23 410.83 605.95 411.05 604.14 411.28 602.32 411.5 609.59 411.72 625.95 411.94 602.32 412.16 615.05 412.38 598.68 412.6 595.05 412.82 600.5 413.04 604.14 413.27 589.59 413.49 613.23 413.71 596.86 413.93 618.68 414.15 611.41 414.37 595.05 414.59 611.41 414.81 605.95 415.04 585.95 415.26 598.68 415.48 595.05 415.7 607.77 415.92 626.5 416.14 605.95 416.36 604.14 416.58 600.5 416.81 598.68 417.03 602.32 417.25 593.23 417.47 618.68 417.69 596.86 417.91 622.32 418.13 591.41 418.35 591.41 418.58 596.86 418.8 596.86 419.02 585.95 419.24 598.68 419.46 609.59 419.68 605.95 419.9 609.59 420.12 624.14 420.35 611.41 420.57 604.14 420.79 602.32 421.01 615.05 421.23 605.95 421.45 611.41 421.67 611.41 421.89 620.5 422.12 613.23 422.34 615.05 422.56 609.59 422.78 600.5 423 604.14 423.22 605.95 423.44 611.41 423.66 611.41 423.89 600.5 424.11 600.5 424.33 615.05 424.55 598.68 424.77 615.05 424.99 604.14 425.21 593.23 425.43 598.68 425.66 596.86 425.88 595.05 426.1 600.5 426.32 600.5 426.54 602.32 426.76 589.59 426.98 598.68 427.2 600.5 427.43 600.5 427.65 611.41 427.87 615.05 428.09 607.77 428.31 613.23 428.53 596.86 428.75 616.86 428.97 604.14 429.19 616.86 429.42 607.77 429.64 613.23 429.86 605.95 430.08 622.32 430.3 604.14 430.52 600.5 430.74 607.77 430.96 609.59 431.19 607.77 431.41 607.77 431.63 622.32 431.85 595.05 432.07 620.5 432.29 629.59 432.51 593.23 432.73 598.68 432.96 618.68 433.18 602.32 433.4 600.5 433.62 607.77 433.84 593.23 434.06 611.41 434.28 611.41 434.5 602.32 434.73 615.05 434.95 605.95 435.17 609.59 435.39 616.86 435.61 605.95 435.83 602.32 436.05 611.41 436.27 595.05 436.5 593.23 436.72 584.14 436.94 616.86 437.16 607.77 437.38 609.59 437.6 605.95 437.82 595.05 438.04 613.23 438.27 616.86 438.49 620.5 438.71 613.23 438.93 596.86 439.15 618.68 439.37 596.86 439.59 611.41 439.81 600.5 440.04 620.5 440.26 602.32 440.48 607.77 440.7 618.68 440.92 598.68 441.14 600.5 441.36 613.23 441.58 598.68 441.81 607.77 442.03 607.77 442.25 589.59 442.47 605.95 442.69 598.68 442.91 595.05 443.13 615.05 443.35 616.86 443.58 613.23 443.8 604.14 444.02 604.14 444.24 593.23 444.46 620.5 444.68 598.68 444.9 609.59 445.12 611.41 445.34 609.59 445.57 605.95 445.79 604.14 446.01 595.05 446.23 591.41 446.45 587.77 446.67 616.86 446.89 593.23 447.11 604.14 447.34 585.95 447.56 605.95 447.78 595.05 448 602.32 448.22 600.5 448.44 613.23 448.66 595.05 448.88 598.68 449.11 605.95 449.33 602.32 449.55 600.5 449.77 605.95 449.99 591.41 450.21 616.86 450.43 611.41 450.65 602.32 450.88 598.68 451.1 598.68 451.32 605.95 451.54 604.14 451.76 595.05 451.98 596.86 452.2 609.59 452.42 589.59 452.65 604.14 452.87 605.95 453.09 604.14 453.31 596.86 453.53 607.77 453.75 593.23 453.97 605.95 454.19 598.68 454.42 591.41 454.64 618.68 454.86 611.41 455.08 609.59 455.3 584.14 455.52 613.23 455.74 607.77 455.96 615.05 456.19 607.77 456.41 611.41 456.63 600.5 456.85 607.77 457.07 602.32 457.29 593.23 457.51 600.5 457.73 584.14 457.96 618.68 458.18 616.86 458.4 613.23 458.62 600.5 458.84 609.59 459.06 604.14 459.28 607.77 459.5 605.95 459.73 600.5 459.95 615.05 460.17 620.5 460.39 615.05 460.61 596.86 460.83 604.14 461.05 615.05 461.27 604.14 461.49 609.59 461.72 585.95 461.94 595.05 462.16 595.05 462.38 611.41 462.6 604.14 462.82 607.77 463.04 602.32 463.26 609.59 463.49 591.41 463.71 598.68 463.93 593.23 464.15 589.59 464.37 611.41 464.59 600.5 464.81 591.41 465.03 611.41 465.26 602.32 465.48 602.32 465.7 605.95 465.92 593.23 466.14 602.32 466.36 609.59 466.58 602.32 466.8 605.95 467.03 598.68 467.25 595.05 467.47 600.5 467.69 605.95 467.91 602.32 468.13 585.95 468.35 595.05 468.57 607.77 468.8 604.14 469.02 576.5 469.24 607.77 469.46 589.59 469.68 598.68 469.9 591.41 470.12 602.32 470.34 613.23 470.57 618.68 470.79 607.77 471.01 604.14 471.23 602.32 471.45 598.68 471.67 600.5 471.89 595.05 472.11 615.05 472.34 589.59 472.56 607.77 472.78 600.5 473 624.14 473.22 613.23 473.44 607.77 473.66 604.14 473.88 611.41 474.11 602.32 474.33 602.32 474.55 615.05 474.77 598.68 474.99 602.32 475.21 602.32 475.43 596.86 475.65 589.59 475.87 602.32 476.1 605.95 476.32 598.68 476.54 593.23 476.76 589.59 476.98 616.86 477.2 605.95 477.42 596.86 477.64 602.32 477.87 600.5 478.09 602.32 478.31 602.32 478.53 598.68 478.75 596.86 478.97 593.23 479.19 602.32 479.41 604.14 479.64 616.86 479.86 602.32 480.08 628.5 480.3 613.23 480.52 584.14 480.74 591.41 480.96 604.14 481.18 605.95 481.41 600.5 481.63 593.23 481.85 602.32 482.07 593.23 482.29 618.68 482.51 611.41 482.73 602.32 482.95 576.86 483.18 607.77 483.4 600.5 483.62 607.77 483.84 604.14 484.06 600.5 484.28 616.86 484.5 598.68 484.72 595.05 484.95 596.86 485.17 593.23 485.39 616.86 485.61 595.05 485.83 609.59 486.05 571.5 486.27 607.77 486.49 609.59 486.72 616.86 486.94 615.05 487.16 598.68 487.38 602.32 487.6 595.05 487.82 582.32 488.04 622.32 488.26 589.59 488.49 613.23 488.71 582.32 488.93 602.32 489.15 616.86 489.37 596.86 489.59 607.77 489.81 596.86 490.03 611.41 490.26 611.41 490.48 607.77 490.7 595.05 490.92 591.41 491.14 609.59 491.36 605.95 491.58 600.5 491.8 605.95 492.02 585.95 492.25 595.05 492.47 585.95 492.69 585.95 492.91 593.23 493.13 585.95 493.35 591.41 493.57 604.14 493.79 598.68 494.02 582.32 494.24 584.14 494.46 598.68 494.68 602.32 494.9 591.41 495.12 607.77 495.34 600.5 495.56 620.5 495.79 607.77 496.01 600.5 496.23 602.32 496.45 595.05 496.67 604.14 496.89 607.77 497.11 605.95 497.33 615.05 497.56 604.14 497.78 595.05 498 611.41 498.22 585.95 498.44 593.23 498.66 605.95 498.88 605.95 499.1 595.05 499.33 591.41 499.55 580.5 499.77 593.23 499.99 596.86 500.21 589.59 500.43 596.86 500.65 593.23 500.87 600.5 501.1 616.86 501.32 602.32 501.54 613.23 501.76 600.5 501.98 598.68 502.2 607.77 502.42 611.41 502.64 604.14 502.87 602.32 503.09 604.14 503.31 591.41 503.53 598.68 503.75 596.86 503.97 561.5 504.19 605.95 504.41 585.95 504.64 605.95 504.86 609.59 505.08 596.86 505.3 596.86 505.52 604.14 505.74 598.68 505.96 622.5 506.18 593.23 506.41 605.95 506.63 609.59 506.85 596.86 507.07 566.5 507.29 600.5 507.51 600.5 507.73 600.5 507.95 598.68 508.17 616.86 508.4 602.32 508.62 593.23 508.84 607.77 509.06 596.86 509.28 587.77 509.5 591.41 509.72 604.14 509.94 604.14 510.17 604.14 510.39 593.23 510.61 598.68 510.83 589.59 511.05 589.59 511.27 618.68 511.49 596.86 511.71 596.86 511.94 598.68 512.16 605.95 512.38 611.41 512.6 595.05 512.82 602.32 513.04 607.77 513.26 600.5 513.48 600.5 513.71 589.59 513.93 596.86 514.15 589.59 514.37 613.23 514.59 602.32 514.81 582.32 515.03 589.59 515.25 580.5 515.48 604.14 515.7 591.41 515.92 598.68 516.14 593.23 516.36 600.5 516.58 598.68 516.8 593.23 517.02 602.32 517.25 589.59 517.47 609.59 517.69 613.23 517.91 602.32 518.13 596.86 518.35 600.5 518.57 584.14 518.79 600.5 519.02 605.95 519.24 611.41 519.46 604.14 519.68 595.05 519.9 604.14 520.12 595.05 520.34 589.59 520.56 607.77 520.79 604.14 521.01 607.77 521.23 595.05 521.45 593.23 521.67 613.23 521.89 605.95 522.11 596.86 522.33 593.23 522.56 595.05 522.78 604.14 523 582.32 523.22 595.05 523.44 591.41 523.66 585.95 523.88 593.23 524.1 565.5 524.32 591.41 524.55 598.68 524.77 602.32 524.99 596.86 525.21 591.41 525.43 607.77 525.65 600.5 525.87 609.59 526.09 591.41 526.32 596.86 526.54 600.5 526.76 598.68 526.98 587.77 527.2 605.95 527.42 609.59 527.64 600.5 527.86 593.23 528.09 609.59 528.31 595.05 528.53 605.95 528.75 598.68 528.97 623.5 529.19 591.41 529.41 591.41 529.63 602.32 529.86 602.32 530.08 615.05 530.3 609.59 530.52 600.5 530.74 598.68 530.96 587.77 531.18 602.32 531.4 587.77 531.63 595.05 531.85 595.05 532.07 593.23 532.29 613.23 532.51 600.5 532.73 618.68 532.95 571.5 533.17 598.68 533.4 605.95 533.62 596.86 533.84 600.5 534.06 585.95 534.28 607.77 534.5 602.32 534.72 602.32 534.94 613.23 535.17 598.68 535.39 609.59 535.61 587.77 535.83 595.05 536.05 602.32 536.27 596.86 536.49 595.05 536.71 589.59 536.94 615.05 537.16 613.23 537.38 591.41 537.6 609.59 537.82 598.68 538.04 604.14 538.26 600.5 538.48 595.05 538.71 595.05 538.93 575.05 539.15 598.68 539.37 602.32 539.59 596.86 539.81 602.32 540.03 602.32 540.25 598.68 540.47 600.5 540.7 600.5 540.92 611.41 541.14 598.68 541.36 600.5 541.58 598.68 541.8 593.23 542.02 602.32 542.24 607.77 542.47 585.95 542.69 598.68 542.91 598.68 543.13 598.68 543.35 604.14 543.57 598.68 543.79 605.95 544.01 593.23 544.24 589.59 544.46 613.23 544.68 589.59 544.9 587.77 545.12 600.5 545.34 575.05 545.56 596.86 545.78 589.59 546.01 604.14 546.23 609.59 546.45 615.05 546.67 602.32 546.89 585.95 547.11 600.5 547.33 589.59 547.55 602.32 547.78 593.23 548 611.41 548.22 598.68 548.44 598.68 548.66 587.77 548.88 587.77 549.1 596.86 549.32 609.59 549.55 602.32 549.77 600.5 549.99 596.86 550.21 598.68 550.43 609.59 550.65 587.77 550.87 607.77 551.09 605.95 551.32 609.59 551.54 582.32 551.76 598.68 551.98 589.59 552.2 587.77 552.42 593.23 552.64 618.68 552.86 591.41 553.09 607.77 553.31 589.59 553.53 613.23 553.75 596.86 553.97 587.77 554.19 616.86 554.41 589.59 554.63 593.23 554.86 604.14 555.08 595.05 555.3 604.14 555.52 596.86 555.74 602.32 555.96 569.5 556.18 598.68 556.4 589.59 556.62 598.68 556.85 596.86 557.07 591.41 557.29 620.5 557.51 618.68 557.73 576.86 557.95 634.5 558.17 616.86 558.39 595.05 558.62 584.14 558.84 580.5 559.06 604.14 559.28 605.95 559.5 584.14 559.72 591.41 559.94 593.23 560.16 595.05 560.39 605.95 560.61 591.41 560.83 598.68 561.05 596.86 561.27 600.5 561.49 598.68 561.71 611.41 561.93 596.86 562.16 585.95 562.38 600.5 562.6 576.86 562.82 602.32 563.04 598.68 563.26 596.86 563.48 591.41 563.7 602.32 563.93 600.5 564.15 591.41 564.37 585.95 564.59 616.86 564.81 591.41 565.03 595.05 565.25 598.68 565.47 600.5 565.7 600.5 565.92 604.14 566.14 598.68 566.36 575.05 566.58 596.86 566.8 600.5 567.02 624.14 567.24 602.32 567.47 611.41 567.69 585.95 567.91 596.86 568.13 587.77 568.35 595.05 568.57 605.95 568.79 593.23 569.01 598.68 569.24 578.68 569.46 607.77 569.68 587.77 569.9 578.5 570.12 596.86 570.34 587.77 570.56 598.68 570.78 607.77 571.01 637.5 571.23 589.59 571.45 596.86 571.67 578.68 571.89 598.68 572.11 584.14 572.33 604.14 572.55 591.41 572.77 593.23 573 593.23 573.22 609.59 573.44 585.95 573.66 585.95 573.88 600.5 574.1 605.95 574.32 596.86 574.54 582.32 574.77 589.59 574.99 595.05 575.21 598.68 575.43 600.5 575.65 602.32 575.87 596.86 576.09 600.5 576.31 598.68 576.54 593.23 576.76 600.5 576.98 598.68 577.2 615.05 577.42 602.32 577.64 605.95 577.86 600.5 578.08 607.77 578.31 584.14 578.53 598.68 578.75 600.5 578.97 605.95 579.19 587.77 579.41 609.59 579.63 591.41 579.85 598.68 580.08 585.95 580.3 593.23 580.52 587.77 580.74 604.14 580.96 602.32 581.18 595.05 581.4 576.86 581.62 602.32 581.85 602.32 582.07 593.23 582.29 609.59 582.51 602.32 582.73 595.05 582.95 607.77 583.17 595.05 583.39 607.77 583.62 602.32 583.84 593.23 584.06 605.95 584.28 600.5 584.5 596.86 584.72 595.05 584.94 609.59 585.16 591.41 585.39 605.95 585.61 595.05 585.83 589.59 586.05 607.77 586.27 604.14 586.49 605.95 586.71 600.5 586.93 598.68 587.16 591.41 587.38 598.68 587.6 604.14 587.82 609.59 588.04 600.5 588.26 604.14 588.48 611.41 588.7 602.32 588.92 600.5 589.15 589.59 589.37 589.59 589.59 596.86 589.81 602.32 590.03 605.95 590.25 587.77 590.47 593.23 590.69 598.68 590.92 591.41 591.14 609.59 591.36 604.14 591.58 607.77 591.8 604.14 592.02 591.41 592.24 589.59 592.46 595.05 592.69 605.95 592.91 575.5 593.13 605.95 593.35 615.05 593.57 607.77 593.79 616.86 594.01 589.59 594.23 602.32 594.46 593.23 594.68 585.95 594.9 589.59 595.12 585.95 595.34 604.14 595.56 595.05 595.78 595.05 596 616.86 596.23 604.14 596.45 609.59 596.67 589.59 596.89 582.32 597.11 595.05 597.33 611.41 597.55 589.59 597.77 596.86 598 595.05 598.22 596.86 598.44 605.95 598.66 591.41 598.88 600.5 599.1 607.77 599.32 585.95 599.54 607.77 599.77 591.41 599.99 621.5 600.21 613.23 600.43 596.86 600.65 605.95 600.87 602.32 601.09 607.77 601.31 591.41 601.54 615.05 601.76 611.41 601.98 611.41 602.2 598.68 602.42 604.14 602.64 593.23 602.86 585.95 603.08 605.95 603.31 607.77 603.53 589.59 603.75 607.77 603.97 587.77 604.19 602.32 604.41 600.5 604.63 600.5 604.85 600.5 605.07 593.23 605.3 602.32 605.52 591.41 605.74 593.23 605.96 589.59 606.18 591.41 606.4 598.68 606.62 596.86 606.84 602.32 607.07 598.68 607.29 596.86 607.51 609.59 607.73 585.95 607.95 596.86 608.17 604.14 608.39 602.32 608.61 589.59 608.84 600.5 609.06 609.59 609.28 613.23 609.5 589.59 609.72 585.95 609.94 595.05 610.16 596.86 610.38 589.59 610.61 607.77 610.83 600.5 611.05 604.14 611.27 602.32 611.49 593.23 611.71 607.77 611.93 604.14 612.15 598.68 612.38 615.05 612.6 598.68 612.82 611.41 613.04 596.86 613.26 602.32 613.48 598.68 613.7 598.68 613.92 587.77 614.15 595.05 614.37 589.59 614.59 604.14 614.81 593.23 615.03 587.77 615.25 591.41 615.47 596.86 615.69 604.14 615.92 572.5 616.14 616.86 616.36 591.41 616.58 605.95 616.8 585.95 617.02 589.59 617.24 595.05 617.46 615.05 617.69 609.59 617.91 598.68 618.13 591.41 618.35 605.95 618.57 589.59 618.79 604.14 619.01 602.32 619.23 598.68 619.45 613.23 619.68 604.14 619.9 621.5 620.12 585.95 620.34 580.5 620.56 604.14 620.78 593.23 621 600.5 621.22 585.95 621.45 582.32 621.67 609.59 621.89 585.95 622.11 587.77 622.33 600.5 622.55 589.59 622.77 589.59 622.99 609.59 623.22 591.41 623.44 604.14 623.66 587.77 623.88 600.5 624.1 572.5 624.32 598.68 624.54 596.86 624.76 609.59 624.99 611.41 625.21 584.14 625.43 591.41 625.65 593.23 625.87 591.41 626.09 593.23 626.31 585.95 626.53 595.05 626.76 615.05 626.98 589.59 627.2 613.23 627.42 602.32 627.64 587.77 627.86 589.59 628.08 578.68 628.3 604.14 628.53 598.68 628.75 591.41 628.97 593.23 629.19 602.32 629.41 598.68 629.63 602.32 629.85 593.23 630.07 589.59 630.3 596.86 630.52 605.95 630.74 600.5 630.96 593.23 631.18 605.95 631.4 587.77 631.62 591.41 631.84 596.86 632.07 613.23 632.29 596.86 632.51 589.59 632.73 589.59 632.95 589.59 633.17 591.41 633.39 602.32 633.61 598.68 633.84 595.05 634.06 600.5 634.28 596.86 634.5 585.95 634.72 607.77 634.94 580.5 635.16 585.95 635.38 589.59 635.6 596.86 635.83 600.5 636.05 595.05 636.27 578.68 636.49 600.5 636.71 613.23 636.93 585.95 637.15 602.32 637.37 611.41 637.6 584.14 637.82 604.14 638.04 580.5 638.26 591.41 638.48 580.5 638.7 598.68 638.92 589.59 639.14 595.05 639.37 595.05 639.59 602.32 639.81 616.86 640.03 600.5 640.25 604.14 640.47 598.68 640.69 602.32 640.91 593.23 641.14 598.68 641.36 596.86 641.58 589.59 641.8 602.32 642.02 604.14 642.24 587.77 642.46 598.68 642.68 618.68 642.91 593.23 643.13 604.14 643.35 587.77 643.57 605.95 643.79 605.95 644.01 596.86 644.23 607.77 644.45 604.14 644.68 607.77 644.9 576.5 645.12 600.5 645.34 616.86 645.56 596.86 645.78 584.14 646 600.5 646.22 600.5 646.45 582.32 646.67 602.32 646.89 578.68 647.11 626.5 647.33 600.5 647.55 589.59 647.77 593.23 647.99 596.86 648.22 598.68 648.44 604.14 648.66 578.68 648.88 605.95 649.1 580.5 649.32 602.32 649.54 587.77 649.76 585.95 649.99 604.14 650.21 602.32 650.43 593.23 650.65 609.59 650.87 591.41 651.09 596.86 651.31 598.68 651.53 607.77 651.75 611.41 651.98 591.41 652.2 611.41 652.42 595.05 652.64 591.41 652.86 593.23 653.08 602.32 653.3 602.32 653.52 602.32 653.75 593.23 653.97 585.95 654.19 585.95 654.41 593.23 654.63 587.77 654.85 587.77 655.07 598.68 655.29 598.68 655.52 589.59 655.74 607.77 655.96 598.68 656.18 585.95 656.4 604.14 656.62 585.95 656.84 600.5 657.06 584.14 657.29 602.32 657.51 591.41 657.73 596.86 657.95 609.59 658.17 587.77 658.39 587.77 658.61 596.86 658.83 611.41 659.06 589.59 659.28 587.77 659.5 589.59 659.72 593.23 659.94 578.68 660.16 611.41 660.38 602.32 660.6 604.14 660.83 587.77 661.05 589.59 661.27 591.41 661.49 596.86 661.71 596.86 661.93 593.23 662.15 589.59 662.37 602.32 662.6 604.14 662.82 613.23 663.04 572.5 663.26 596.86 663.48 593.23 663.7 598.68 663.92 596.86 664.14 596.86 664.37 600.5 664.59 591.41 664.81 596.86 665.03 604.14 665.25 598.68 665.47 593.23 665.69 591.41 665.91 600.5 666.14 602.32 666.36 604.14 666.58 587.77 666.8 598.68 667.02 585.95 667.24 596.86 667.46 598.68 667.68 596.86 667.9 584.14 668.13 602.32 668.35 598.68 668.57 587.77 668.79 613.23 669.01 596.86 669.23 602.32 669.45 596.86 669.67 585.95 669.9 589.59 670.12 595.05 670.34 607.77 670.56 602.32 670.78 609.59 671 598.68 671.22 596.86 671.44 587.77 671.67 609.59 671.89 607.77 672.11 578.68 672.33 578.68 672.55 605.95 672.77 587.77 672.99 602.32 673.21 598.68 673.44 607.77 673.66 593.23 673.88 613.23 674.1 585.95 674.32 613.23 674.54 587.77 674.76 593.23 674.98 591.41 675.21 589.59 675.43 585.95 675.65 596.86 675.87 595.05 676.09 596.86 676.31 605.95 676.53 607.77 676.75 604.14 676.98 596.86 677.2 596.86 677.42 598.68 677.64 576.86 677.86 595.05 678.08 575.05 678.3 604.14 678.52 593.23 678.75 611.41 678.97 600.5 679.19 595.05 679.41 595.05 679.63 593.23 679.85 584.14 680.07 621.5 680.29 596.86 680.52 598.68 680.74 582.32 680.96 595.05 681.18 591.41 681.4 600.5 681.62 605.95 681.84 575.05 682.06 593.23 682.29 611.41 682.51 589.59 682.73 596.86 682.95 587.77 683.17 585.95 683.39 589.59 683.61 591.41 683.83 587.77 684.05 589.59 684.28 596.86 684.5 595.05 684.72 593.23 684.94 602.32 685.16 580.5 685.38 607.77 685.6 605.95 685.82 600.5 686.05 605.95 686.27 602.32 686.49 598.68 686.71 575.05 686.93 584.14 687.15 591.41 687.37 591.41 687.59 611.41 687.82 600.5 688.04 595.05 688.26 604.14 688.48 591.41 688.7 582.32 688.92 598.68 689.14 604.14 689.36 602.32 689.59 593.23 689.81 587.77 690.03 589.59 690.25 615.05 690.47 598.68 690.69 576.86 690.91 615.05 691.13 584.14 691.36 596.86 691.58 593.23 691.8 598.68 692.02 596.86 692.24 587.77 692.46 600.5 692.68 584.14 692.9 602.32 693.13 589.59 693.35 587.77 693.57 605.95 693.79 573.23 694.01 618.5 694.23 593.23 694.45 580.5 694.67 604.14 694.9 595.05 695.12 602.32 695.34 584.14 695.56 587.77 695.78 595.05 696 598.68 696.22 602.32 696.44 598.68 696.67 589.59 696.89 602.32 697.11 585.95 697.33 596.86 697.55 596.86 697.77 600.5 697.99 573.23 698.21 595.05 698.44 613.23 698.66 587.77 698.88 593.23 699.1 602.32 699.32 595.05 699.54 613.23 699.76 589.59 699.98 573.23 700.2 595.05 700.43 596.86 700.65 591.41 700.87 596.86 701.09 582.32 701.31 596.86 701.53 561.5 701.75 604.14 701.97 593.23 702.2 593.23 702.42 580.5 702.64 589.59 702.86 584.14 703.08 584.14 703.3 580.5 703.52 595.05 703.74 596.86 703.97 593.23 704.19 589.59 704.41 595.05 704.63 584.14 704.85 605.95 705.07 589.59 705.29 591.41 705.51 598.68 705.74 598.68 705.96 595.05 706.18 580.5 706.4 600.5 706.62 609.59 706.84 593.23 707.06 582.32 707.28 591.41 707.51 591.41 707.73 593.23 707.95 591.41 708.17 593.23 708.39 604.14 708.61 609.59 708.83 589.59 709.05 607.77 709.28 591.41 709.5 600.5 709.72 584.14 709.94 598.68 710.16 604.14 710.38 589.59 710.6 595.05 710.82 595.05 711.05 589.59 711.27 593.23 711.49 593.23 711.71 596.86 711.93 609.59 712.15 598.68 712.37 585.95 712.59 591.41 712.82 582.32 713.04 580.5 713.26 615.05 713.48 596.86 713.7 593.23 713.92 582.32 714.14 580.5 714.36 584.14 714.59 580.5 714.81 584.14 715.03 591.41 715.25 598.68 715.47 582.32 715.69 569.5 715.91 584.14 716.13 611.41 716.35 589.59 716.58 580.5 716.8 584.14 717.02 591.41 717.24 582.32 717.46 593.23 717.68 589.59 717.9 587.77 718.12 604.14 718.35 595.05 718.57 600.5 718.79 595.05 719.01 595.05 719.23 596.86 719.45 593.23 719.67 604.14 719.89 602.32 720.12 589.59 720.34 591.41 720.56 582.32 720.78 589.59 721 607.77 721.22 602.32 721.44 595.05 721.66 598.68 721.89 598.68 722.11 585.95 722.33 604.14 722.55 604.14 722.77 596.86 722.99 604.14 723.21 605.95 723.43 602.32 723.66 589.59 723.88 587.77 724.1 605.95 724.32 600.5 724.54 587.77 724.76 611.41 724.98 596.86 725.2 593.23 725.43 596.86 725.65 595.05 725.87 595.05 726.09 593.23 726.31 600.5 726.53 593.23 726.75 593.23 726.97 618.5 727.2 580.5 727.42 591.41 727.64 585.95 727.86 591.41 728.08 598.68 728.3 604.14 728.52 596.86 728.74 602.32 728.97 604.14 729.19 595.05 729.41 600.5 729.63 593.23 729.85 598.68 730.07 578.68 730.29 600.5 730.51 605.95 730.74 600.5 730.96 600.5 731.18 595.05 731.4 591.41 731.62 602.32 731.84 593.23 732.06 591.41 732.28 585.95 732.5 596.86 732.73 593.23 732.95 598.68 733.17 595.05 733.39 605.95 733.61 605.95 733.83 578.68 734.05 567.5 734.27 591.41 734.5 596.86 734.72 589.59 734.94 607.77 735.16 587.77 735.38 600.5 735.6 598.68 735.82 611.41 736.04 587.77 736.27 585.95 736.49 591.41 736.71 595.05 736.93 575.05 737.15 598.68 737.37 582.32 737.59 585.95 737.81 587.77 738.04 602.32 738.26 589.59 738.48 584.14 738.7 593.23 738.92 598.68 739.14 589.59 739.36 602.32 739.58 589.59 739.81 589.59 740.03 571.5 740.25 596.86 740.47 587.77 740.69 584.14 740.91 624.5 741.13 585.95 741.35 591.41 741.58 576.86 741.8 591.41 742.02 589.59 742.24 591.41 742.46 596.86 742.68 600.5 742.9 591.41 743.12 578.68 743.35 584.14 743.57 582.32 743.79 576.86 744.01 576.86 744.23 598.68 744.45 587.77 744.67 589.59 744.89 582.32 745.12 602.32 745.34 604.14 745.56 602.32 745.78 584.14 746 593.23 746.22 604.14 746.44 600.5 746.66 598.68 746.88 595.05 747.11 621.5 747.33 596.86 747.55 593.23 747.77 602.32 747.99 589.59 748.21 591.41 748.43 598.68 748.65 598.68 748.88 589.59 749.1 587.77 749.32 584.14 749.54 596.86 749.76 596.86 749.98 595.05 750.2 596.86 750.42 600.5 750.65 593.23 750.87 600.5 751.09 591.41 751.31 587.77 751.53 593.23 751.75 589.59 751.97 587.77 752.19 598.68 752.42 595.05 752.64 589.59 752.86 595.05 753.08 600.5 753.3 598.68 753.52 587.77 753.74 589.59 753.96 584.14 754.19 584.14 754.41 589.59 754.63 602.32 754.85 591.41 755.07 573.23 755.29 587.77 755.51 598.68 755.73 578.68 755.96 600.5 756.18 585.95 756.4 587.77 756.62 600.5 756.84 593.23 757.06 584.14 757.28 607.77 757.5 604.14 757.73 607.77 757.95 609.59 758.17 596.86 758.39 584.14 758.61 598.68 758.83 593.23 759.05 591.41 759.27 596.86 759.5 598.68 759.72 602.32 759.94 605.95 760.16 598.68 760.38 584.14 760.6 596.86 760.82 585.95 761.04 596.86 761.27 596.86 761.49 587.77 761.71 593.23 761.93 589.59 762.15 593.23 762.37 584.14 762.59 602.32 762.81 605.95 763.03 607.77 763.26 600.5 763.48 589.59 763.7 598.68 763.92 609.59 764.14 602.32 764.36 609.59 764.58 600.5 764.8 595.05 765.03 605.95 765.25 580.5 765.47 591.41 765.69 585.95 765.91 598.68 766.13 584.14 766.35 600.5 766.57 591.41 766.8 585.95 767.02 611.41 767.24 575.05 767.46 580.5 767.68 587.77 767.9 602.32 768.12 582.32 768.34 593.23 768.57 591.41 768.79 575.05 769.01 595.05 769.23 582.32 769.45 584.14 769.67 596.86 769.89 596.86 770.11 598.68 770.34 598.68 770.56 585.95 770.78 582.32 771 625.5 771.22 607.77 771.44 607.77 771.66 593.23 771.88 575.05 772.11 582.32 772.33 589.59 772.55 598.68 772.77 600.5 772.99 578.68 773.21 571.41 773.43 593.23 773.65 587.77 773.88 600.5 774.1 575.05 774.32 602.32 774.54 611.41 774.76 605.95 774.98 584.14 775.2 611.41 775.42 595.05 775.65 596.86 775.87 591.41 776.09 607.77 776.31 584.14 776.53 595.05 776.75 598.68 776.97 582.32 777.19 600.5 777.42 589.59 777.64 582.32 777.86 585.95 778.08 596.86 778.3 602.32 778.52 596.86 778.74 595.05 778.96 596.86 779.18 587.77 779.41 602.32 779.63 604.14 779.85 591.41 780.07 593.23 780.29 589.59 780.51 587.77 780.73 584.14 780.95 593.23 781.18 607.77 781.4 589.59 781.62 598.68 781.84 595.05 782.06 573.23 782.28 605.95 782.5 600.5 782.72 576.86 782.95 585.95 783.17 591.41 783.39 607.77 783.61 598.68 783.83 589.59 784.05 593.23 784.27 584.14 784.49 595.05 784.72 585.95 784.94 595.05 785.16 587.77 785.38 584.14 785.6 584.14 785.82 593.23 786.04 593.23 786.26 573.23 786.49 596.86 786.71 582.32 786.93 620.5 787.15 576.86 787.37 591.41 787.59 584.14 787.81 604.14 788.03 584.14 788.26 580.5 788.48 593.23 788.7 596.86 788.92 604.14 789.14 575.05 789.36 598.68 789.58 589.59 789.8 600.5 790.03 593.23 790.25 611.41 790.47 575.05 790.69 604.14 790.91 609.59 791.13 598.68 791.35 580.5 791.57 571.41 791.8 589.59 792.02 600.5 792.24 585.95 792.46 589.59 792.68 582.32 792.9 580.5 793.12 587.77 793.34 589.59 793.57 587.77 793.79 573.23 794.01 598.68 794.23 580.5 794.45 589.59 794.67 595.05 794.89 587.77 795.11 585.95 795.33 595.05 795.56 593.23 795.78 587.77 796 593.23 796.22 582.32 796.44 593.23 796.66 598.68 796.88 591.41 797.1 591.41 797.33 582.32 797.55 595.05 797.77 593.23 797.99 571.5 798.21 593.23 798.43 596.86 798.65 587.77 798.87 584.14 799.1 589.59 799.32 589.59 799.54 593.23 799.76 605.95 799.98 602.32 800.2 593.23 800.42 585.95 800.64 609.59 800.87 584.14 801.09 609.59 801.31 598.68 801.53 593.23 801.75 596.86 801.97 596.86 802.19 587.77 802.41 591.41 802.64 596.86 802.86 600.5 803.08 596.86 803.3 595.05 803.52 600.5 803.74 596.86 803.96 585.95 804.18 587.77 804.41 582.32 804.63 587.77 804.85 593.23 805.07 622.5 805.29 589.59 805.51 593.23 805.73 607.77 805.95 600.5 806.18 605.95 806.4 600.5 806.62 580.5 806.84 582.32 807.06 595.05 807.28 587.77 807.5 595.05 807.72 585.95 807.95 595.05 808.17 585.95 808.39 587.77 808.61 593.23 808.83 595.05 809.05 585.95 809.27 591.41 809.49 604.14 809.72 565.5 809.94 593.23 810.16 604.14 810.38 585.95 810.6 607.77"/></g>
<path d="M125.6 189.49H900.6" stroke="#000" stroke-width="2.78" fill="none"/>
<path d="M125.6 538.58H900.6" stroke="#000" stroke-width="2.78" fill="none"/>
<g stroke="#000" stroke-width="0.55" stroke-opacity="0.8" stroke-dasharray="1.1 4.456" fill="none">
<path d="M236.5 371.05V80.35"/>
<path d="M346.5 371.05V80.35"/>
<path d="M457.5 371.05V80.35"/>
<path d="M568.5 371.05V80.35"/>
<path d="M679.5 371.05V80.35"/>
<path d="M789.5 371.05V80.35"/>
<path d="M125 335.3H900.6"/>
<path d="M125 298.3H900.6"/>
<path d="M125 262.3H900.6"/>
<path d="M125 225.3H900.6"/>
<path d="M125 153.3H900.6"/>
<path d="M125 116.3H900.6"/>
</g>
<g stroke="#000" stroke-width="0.55" stroke-opacity="0.8" stroke-dasharray="1.1 4.456" fill="none">
<path d="M236.5 720.05V429.5"/>
<path d="M346.5 720.05V429.5"/>
<path d="M457.5 720.05V429.5"/>
<path d="M568.5 720.05V429.5"/>
<path d="M679.5 720.05V429.5"/>
<path d="M789.5 720.05V429.5"/>
<path d="M125 684.3H900.6"/>
<path d="M125 647.3H900.6"/>
<path d="M125 611.3H900.6"/>
<path d="M125 575.3H900.6"/>
<path d="M125 502.3H900.6"/>
<path d="M125 465.3H900.6"/>
</g>
<rect x="125.6" y="80.35" width="775.00" height="290.70" fill="none" stroke="#000" stroke-width="1.35"/>
<g stroke="#000" stroke-width="0.62">
<path d="M236.5 371.05v-5.5M236.5 80.35v5.5"/>
<path d="M346.5 371.05v-5.5M346.5 80.35v5.5"/>
<path d="M457.5 371.05v-5.5M457.5 80.35v5.5"/>
<path d="M568.5 371.05v-5.5M568.5 80.35v5.5"/>
<path d="M679.5 371.05v-5.5M679.5 80.35v5.5"/>
<path d="M789.5 371.05v-5.5M789.5 80.35v5.5"/>
<path d="M125.6 335.3h5.5M900.6 335.3h-5.5"/>
<path d="M125.6 298.3h5.5M900.6 298.3h-5.5"/>
<path d="M125.6 262.3h5.5M900.6 262.3h-5.5"/>
<path d="M125.6 225.3h5.5M900.6 225.3h-5.5"/>
<path d="M125.6 189.3h5.5M900.6 189.3h-5.5"/>
<path d="M125.6 153.3h5.5M900.6 153.3h-5.5"/>
<path d="M125.6 116.3h5.5M900.6 116.3h-5.5"/>
</g>
<rect x="125.6" y="429.5" width="775.00" height="290.55" fill="none" stroke="#000" stroke-width="1.35"/>
<g stroke="#000" stroke-width="0.62">
<path d="M236.5 720.05v-5.5M236.5 429.5v5.5"/>
<path d="M346.5 720.05v-5.5M346.5 429.5v5.5"/>
<path d="M457.5 720.05v-5.5M457.5 429.5v5.5"/>
<path d="M568.5 720.05v-5.5M568.5 429.5v5.5"/>
<path d="M679.5 720.05v-5.5M679.5 429.5v5.5"/>
<path d="M789.5 720.05v-5.5M789.5 429.5v5.5"/>
<path d="M125.6 684.3h5.5M900.6 684.3h-5.5"/>
<path d="M125.6 647.3h5.5M900.6 647.3h-5.5"/>
<path d="M125.6 611.3h5.5M900.6 611.3h-5.5"/>
<path d="M125.6 575.3h5.5M900.6 575.3h-5.5"/>
<path d="M125.6 538.3h5.5M900.6 538.3h-5.5"/>
<path d="M125.6 502.3h5.5M900.6 502.3h-5.5"/>
<path d="M125.6 465.3h5.5M900.6 465.3h-5.5"/>
</g>
<g>
<text font-size="22.22" x="118.75" y="31.3" style="letter-spacing:-0.2102px">outGapMonSingle_16309.lis --- (gap encoder offset = 793.23675 mm)</text>
<text font-size="16.667" x="271.35" y="73.0" style="letter-spacing:-0.1796px">mean=9.9991 mm, stdev=0.0004 mm (p-p=3.75 microns)</text>
<text font-size="16.667" x="358.05" y="404.5" style="letter-spacing:-0.1639px">averaged over last 10 single readings</text>
<text font-size="16.667" x="271.35" y="421.6" style="letter-spacing:-0.1796px">mean=9.9991 mm, stdev=0.0002 mm (p-p=1.15 microns)</text>
<text font-size="16.667" x="470.05" y="759.6" style="letter-spacing:-0.0778px">time [min]</text>
<text font-size="16.667" transform="translate(43.7 323.5) rotate(-90)" style="letter-spacing:-0.23px">gapEncoderSingle [mm]</text>
<text font-size="16.667" transform="translate(43.7 681.0) rotate(-90)" style="letter-spacing:-0.25px">gapEncoderAverage [mm]</text>
<text font-size="16.667" x="53.25" y="84.5" style="letter-spacing:-0.2417px">10.0015</text>
<text font-size="16.667" x="53.25" y="120.8" style="letter-spacing:-0.35px">10.0010</text>
<text font-size="16.667" x="53.25" y="157.2" style="letter-spacing:-0.2417px">10.0005</text>
<text font-size="16.667" x="53.25" y="193.5" style="letter-spacing:-0.35px">10.0000</text>
<text font-size="16.667" x="63.55" y="229.9" style="letter-spacing:-0.22px">9.9995</text>
<text font-size="16.667" x="63.55" y="266.3" style="letter-spacing:-0.35px">9.9990</text>
<text font-size="16.667" x="63.55" y="302.6" style="letter-spacing:-0.22px">9.9985</text>
<text font-size="16.667" x="63.55" y="339.0" style="letter-spacing:-0.35px">9.9980</text>
<text font-size="16.667" x="63.55" y="375.4" style="letter-spacing:-0.22px">9.9975</text>
<text font-size="16.667" x="53.25" y="433.5" style="letter-spacing:-0.2417px">10.0015</text>
<text font-size="16.667" x="53.25" y="469.9" style="letter-spacing:-0.35px">10.0010</text>
<text font-size="16.667" x="53.25" y="506.3" style="letter-spacing:-0.2417px">10.0005</text>
<text font-size="16.667" x="53.25" y="542.6" style="letter-spacing:-0.35px">10.0000</text>
<text font-size="16.667" x="63.55" y="579.0" style="letter-spacing:-0.22px">9.9995</text>
<text font-size="16.667" x="63.55" y="615.4" style="letter-spacing:-0.35px">9.9990</text>
<text font-size="16.667" x="63.55" y="651.7" style="letter-spacing:-0.22px">9.9985</text>
<text font-size="16.667" x="63.55" y="688.1" style="letter-spacing:-0.35px">9.9980</text>
<text font-size="16.667" x="63.55" y="724.5" style="letter-spacing:-0.22px">9.9975</text>
<text font-size="16.667" x="119.75" y="737.8">0</text>
<text font-size="16.667" x="230.43" y="737.8">5</text>
<text font-size="16.667" x="335.71" y="737.8" style="letter-spacing:-0.85px">10</text>
<text font-size="16.667" x="446.89" y="737.8" style="letter-spacing:-0.85px">15</text>
<text font-size="16.667" x="557.56" y="737.8" style="letter-spacing:-0.85px">20</text>
<text font-size="16.667" x="668.49" y="737.8" style="letter-spacing:-0.85px">25</text>
<text font-size="16.667" x="778.92" y="737.8" style="letter-spacing:-0.85px">30</text>
<text font-size="16.667" x="889.85" y="737.8" style="letter-spacing:-0.85px">35</text>
</g>
</svg>
</body></html>
